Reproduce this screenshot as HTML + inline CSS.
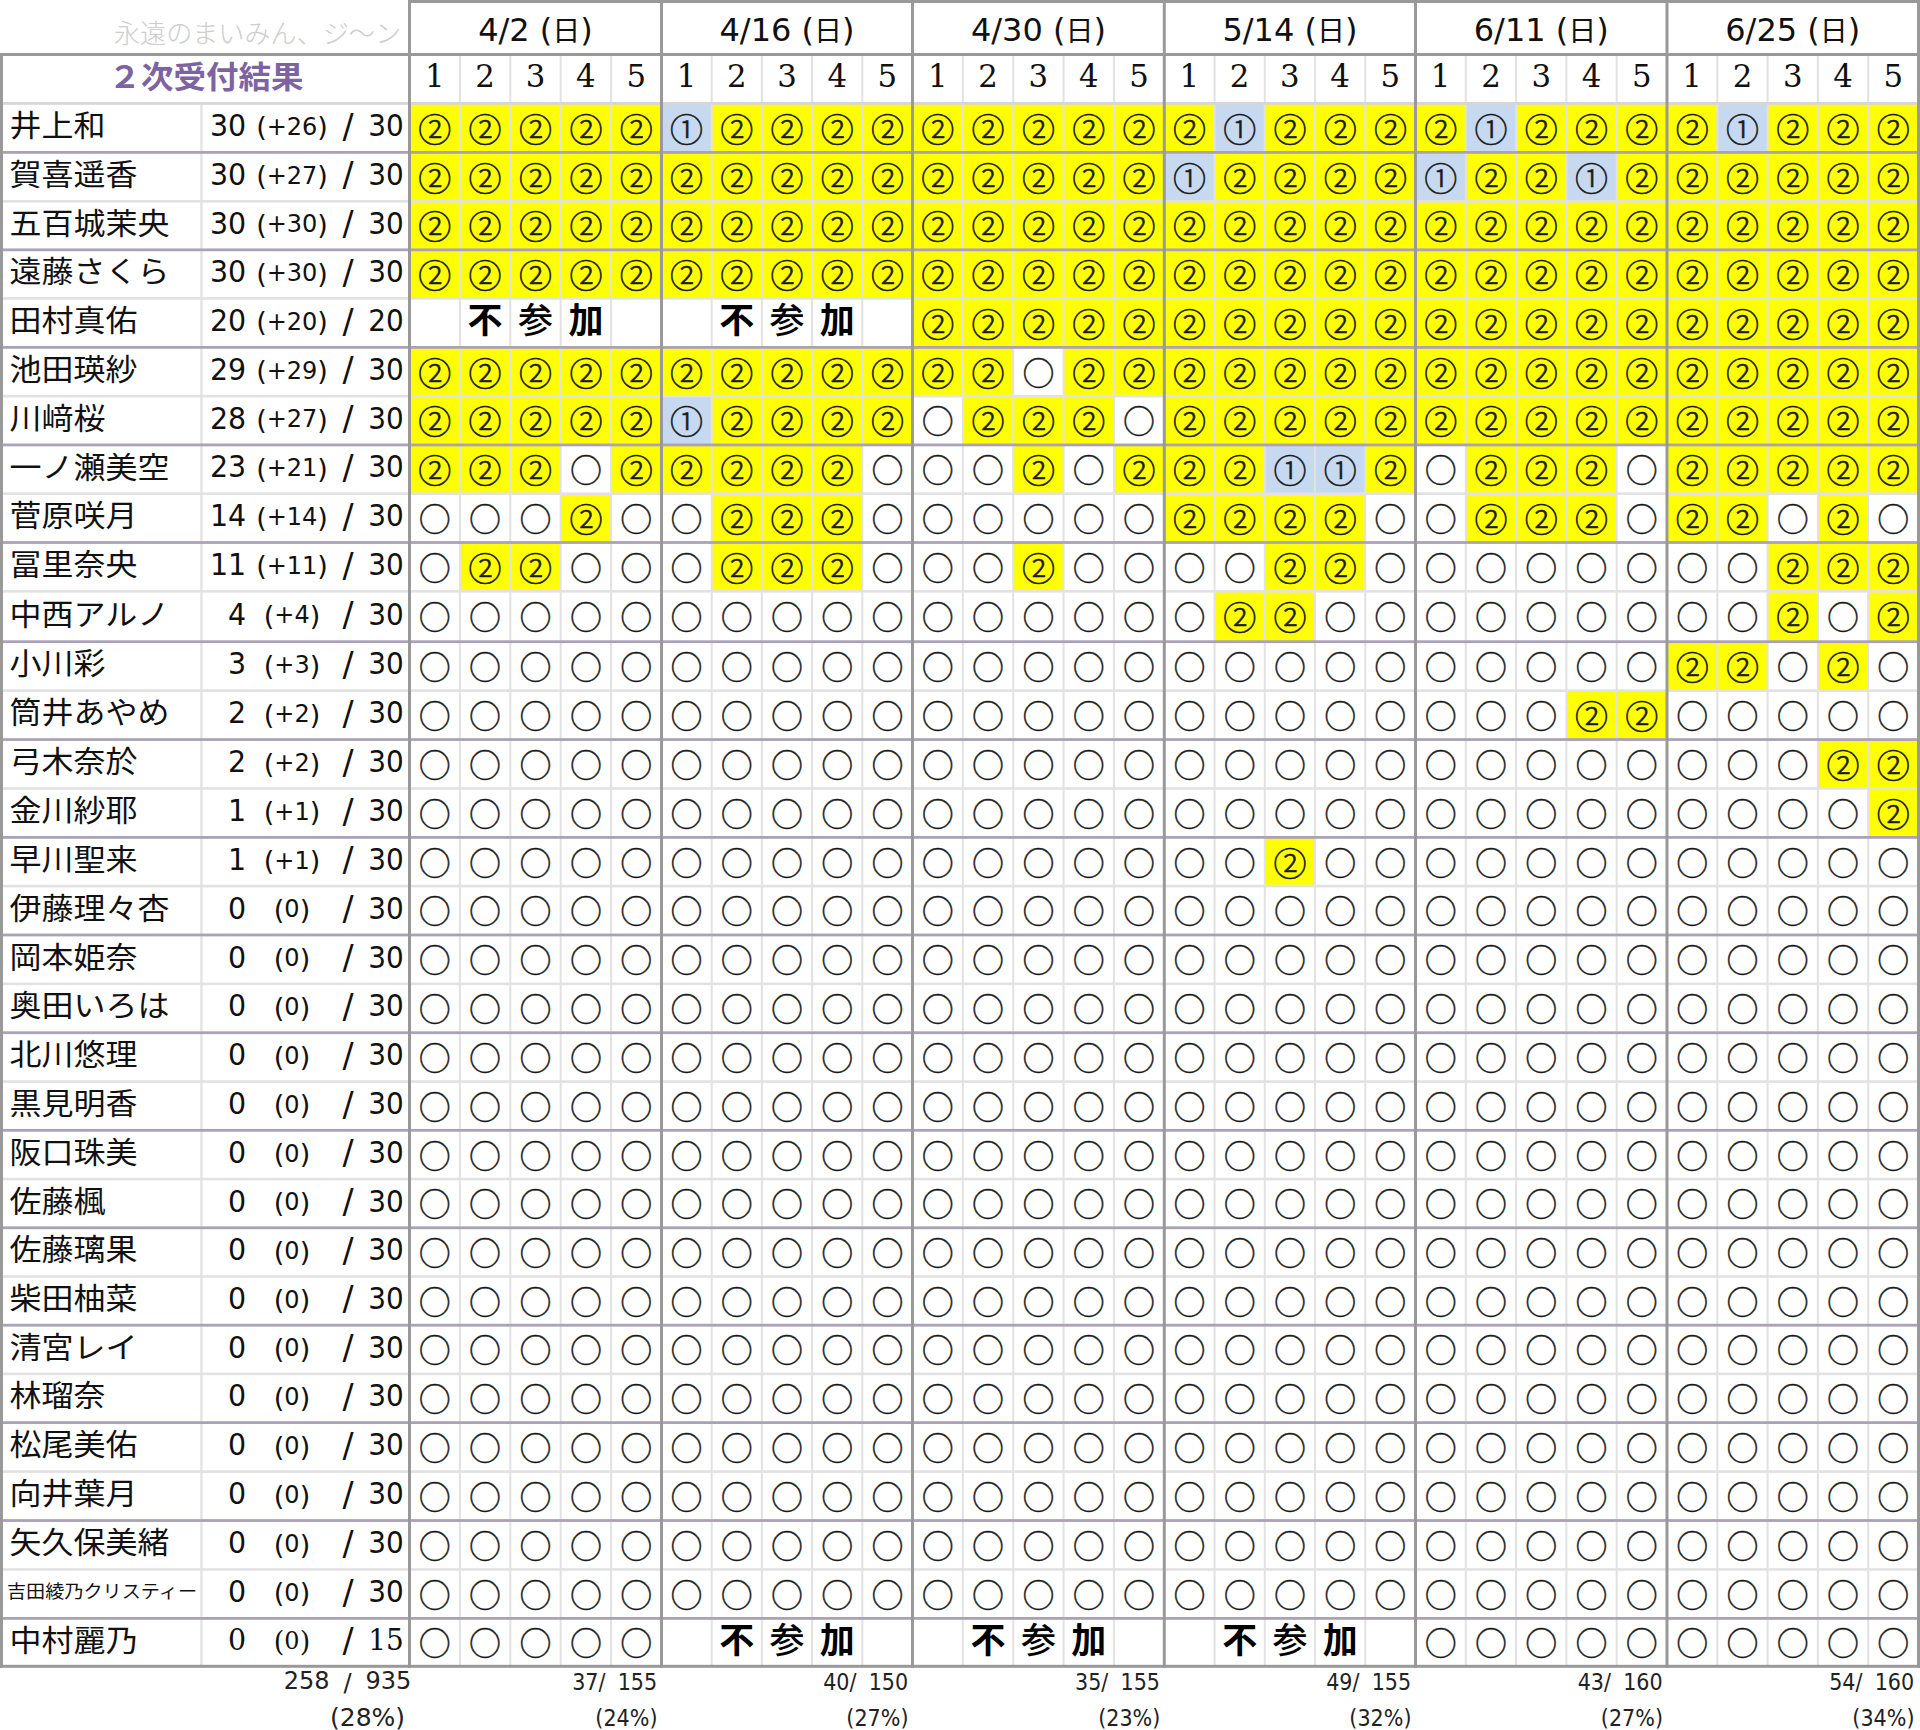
<!DOCTYPE html>
<html lang="ja"><head><meta charset="utf-8"><title>2次受付結果</title>
<style>html,body{margin:0;padding:0;background:#fff;} svg{display:block;}
.n{font-family:'Noto Sans CJK JP',sans-serif;font-size:33px;font-weight:300;fill:#1a1a1a;stroke:#1a1a1a;stroke-width:0.6px;text-anchor:middle;}
.o{font-family:'Noto Sans CJK JP',sans-serif;font-size:32px;font-weight:400;fill:#1a1a1a;stroke:#1a1a1a;stroke-width:0.4px;text-anchor:middle;}</style>
</head><body>
<svg width="1920" height="1730" viewBox="0 0 1920 1730">
<rect x='0' y='0' width='1920' height='1730' fill='#ffffff'/>
<rect x='409.50' y='103.40' width='50.40' height='49.00' fill='#ffff00'/>
<rect x='459.90' y='103.40' width='50.40' height='49.00' fill='#ffff00'/>
<rect x='510.30' y='103.40' width='50.40' height='49.00' fill='#ffff00'/>
<rect x='560.70' y='103.40' width='50.40' height='49.00' fill='#ffff00'/>
<rect x='611.10' y='103.40' width='50.40' height='49.00' fill='#ffff00'/>
<rect x='661.50' y='103.40' width='50.20' height='49.00' fill='#c6d9f0'/>
<rect x='711.70' y='103.40' width='50.20' height='49.00' fill='#ffff00'/>
<rect x='761.90' y='103.40' width='50.20' height='49.00' fill='#ffff00'/>
<rect x='812.10' y='103.40' width='50.20' height='49.00' fill='#ffff00'/>
<rect x='862.30' y='103.40' width='50.20' height='49.00' fill='#ffff00'/>
<rect x='912.50' y='103.40' width='50.36' height='49.00' fill='#ffff00'/>
<rect x='962.86' y='103.40' width='50.36' height='49.00' fill='#ffff00'/>
<rect x='1013.22' y='103.40' width='50.36' height='49.00' fill='#ffff00'/>
<rect x='1063.58' y='103.40' width='50.36' height='49.00' fill='#ffff00'/>
<rect x='1113.94' y='103.40' width='50.36' height='49.00' fill='#ffff00'/>
<rect x='1164.30' y='103.40' width='50.24' height='49.00' fill='#ffff00'/>
<rect x='1214.54' y='103.40' width='50.24' height='49.00' fill='#c6d9f0'/>
<rect x='1264.78' y='103.40' width='50.24' height='49.00' fill='#ffff00'/>
<rect x='1315.02' y='103.40' width='50.24' height='49.00' fill='#ffff00'/>
<rect x='1365.26' y='103.40' width='50.24' height='49.00' fill='#ffff00'/>
<rect x='1415.50' y='103.40' width='50.30' height='49.00' fill='#ffff00'/>
<rect x='1465.80' y='103.40' width='50.30' height='49.00' fill='#c6d9f0'/>
<rect x='1516.10' y='103.40' width='50.30' height='49.00' fill='#ffff00'/>
<rect x='1566.40' y='103.40' width='50.30' height='49.00' fill='#ffff00'/>
<rect x='1616.70' y='103.40' width='50.30' height='49.00' fill='#ffff00'/>
<rect x='1667.00' y='103.40' width='50.30' height='49.00' fill='#ffff00'/>
<rect x='1717.30' y='103.40' width='50.30' height='49.00' fill='#c6d9f0'/>
<rect x='1767.60' y='103.40' width='50.30' height='49.00' fill='#ffff00'/>
<rect x='1817.90' y='103.40' width='50.30' height='49.00' fill='#ffff00'/>
<rect x='1868.20' y='103.40' width='50.30' height='49.00' fill='#ffff00'/>
<rect x='409.50' y='152.40' width='50.40' height='48.90' fill='#ffff00'/>
<rect x='459.90' y='152.40' width='50.40' height='48.90' fill='#ffff00'/>
<rect x='510.30' y='152.40' width='50.40' height='48.90' fill='#ffff00'/>
<rect x='560.70' y='152.40' width='50.40' height='48.90' fill='#ffff00'/>
<rect x='611.10' y='152.40' width='50.40' height='48.90' fill='#ffff00'/>
<rect x='661.50' y='152.40' width='50.20' height='48.90' fill='#ffff00'/>
<rect x='711.70' y='152.40' width='50.20' height='48.90' fill='#ffff00'/>
<rect x='761.90' y='152.40' width='50.20' height='48.90' fill='#ffff00'/>
<rect x='812.10' y='152.40' width='50.20' height='48.90' fill='#ffff00'/>
<rect x='862.30' y='152.40' width='50.20' height='48.90' fill='#ffff00'/>
<rect x='912.50' y='152.40' width='50.36' height='48.90' fill='#ffff00'/>
<rect x='962.86' y='152.40' width='50.36' height='48.90' fill='#ffff00'/>
<rect x='1013.22' y='152.40' width='50.36' height='48.90' fill='#ffff00'/>
<rect x='1063.58' y='152.40' width='50.36' height='48.90' fill='#ffff00'/>
<rect x='1113.94' y='152.40' width='50.36' height='48.90' fill='#ffff00'/>
<rect x='1164.30' y='152.40' width='50.24' height='48.90' fill='#c6d9f0'/>
<rect x='1214.54' y='152.40' width='50.24' height='48.90' fill='#ffff00'/>
<rect x='1264.78' y='152.40' width='50.24' height='48.90' fill='#ffff00'/>
<rect x='1315.02' y='152.40' width='50.24' height='48.90' fill='#ffff00'/>
<rect x='1365.26' y='152.40' width='50.24' height='48.90' fill='#ffff00'/>
<rect x='1415.50' y='152.40' width='50.30' height='48.90' fill='#c6d9f0'/>
<rect x='1465.80' y='152.40' width='50.30' height='48.90' fill='#ffff00'/>
<rect x='1516.10' y='152.40' width='50.30' height='48.90' fill='#ffff00'/>
<rect x='1566.40' y='152.40' width='50.30' height='48.90' fill='#c6d9f0'/>
<rect x='1616.70' y='152.40' width='50.30' height='48.90' fill='#ffff00'/>
<rect x='1667.00' y='152.40' width='50.30' height='48.90' fill='#ffff00'/>
<rect x='1717.30' y='152.40' width='50.30' height='48.90' fill='#ffff00'/>
<rect x='1767.60' y='152.40' width='50.30' height='48.90' fill='#ffff00'/>
<rect x='1817.90' y='152.40' width='50.30' height='48.90' fill='#ffff00'/>
<rect x='1868.20' y='152.40' width='50.30' height='48.90' fill='#ffff00'/>
<rect x='409.50' y='201.30' width='50.40' height='48.55' fill='#ffff00'/>
<rect x='459.90' y='201.30' width='50.40' height='48.55' fill='#ffff00'/>
<rect x='510.30' y='201.30' width='50.40' height='48.55' fill='#ffff00'/>
<rect x='560.70' y='201.30' width='50.40' height='48.55' fill='#ffff00'/>
<rect x='611.10' y='201.30' width='50.40' height='48.55' fill='#ffff00'/>
<rect x='661.50' y='201.30' width='50.20' height='48.55' fill='#ffff00'/>
<rect x='711.70' y='201.30' width='50.20' height='48.55' fill='#ffff00'/>
<rect x='761.90' y='201.30' width='50.20' height='48.55' fill='#ffff00'/>
<rect x='812.10' y='201.30' width='50.20' height='48.55' fill='#ffff00'/>
<rect x='862.30' y='201.30' width='50.20' height='48.55' fill='#ffff00'/>
<rect x='912.50' y='201.30' width='50.36' height='48.55' fill='#ffff00'/>
<rect x='962.86' y='201.30' width='50.36' height='48.55' fill='#ffff00'/>
<rect x='1013.22' y='201.30' width='50.36' height='48.55' fill='#ffff00'/>
<rect x='1063.58' y='201.30' width='50.36' height='48.55' fill='#ffff00'/>
<rect x='1113.94' y='201.30' width='50.36' height='48.55' fill='#ffff00'/>
<rect x='1164.30' y='201.30' width='50.24' height='48.55' fill='#ffff00'/>
<rect x='1214.54' y='201.30' width='50.24' height='48.55' fill='#ffff00'/>
<rect x='1264.78' y='201.30' width='50.24' height='48.55' fill='#ffff00'/>
<rect x='1315.02' y='201.30' width='50.24' height='48.55' fill='#ffff00'/>
<rect x='1365.26' y='201.30' width='50.24' height='48.55' fill='#ffff00'/>
<rect x='1415.50' y='201.30' width='50.30' height='48.55' fill='#ffff00'/>
<rect x='1465.80' y='201.30' width='50.30' height='48.55' fill='#ffff00'/>
<rect x='1516.10' y='201.30' width='50.30' height='48.55' fill='#ffff00'/>
<rect x='1566.40' y='201.30' width='50.30' height='48.55' fill='#ffff00'/>
<rect x='1616.70' y='201.30' width='50.30' height='48.55' fill='#ffff00'/>
<rect x='1667.00' y='201.30' width='50.30' height='48.55' fill='#ffff00'/>
<rect x='1717.30' y='201.30' width='50.30' height='48.55' fill='#ffff00'/>
<rect x='1767.60' y='201.30' width='50.30' height='48.55' fill='#ffff00'/>
<rect x='1817.90' y='201.30' width='50.30' height='48.55' fill='#ffff00'/>
<rect x='1868.20' y='201.30' width='50.30' height='48.55' fill='#ffff00'/>
<rect x='409.50' y='249.85' width='50.40' height='48.55' fill='#ffff00'/>
<rect x='459.90' y='249.85' width='50.40' height='48.55' fill='#ffff00'/>
<rect x='510.30' y='249.85' width='50.40' height='48.55' fill='#ffff00'/>
<rect x='560.70' y='249.85' width='50.40' height='48.55' fill='#ffff00'/>
<rect x='611.10' y='249.85' width='50.40' height='48.55' fill='#ffff00'/>
<rect x='661.50' y='249.85' width='50.20' height='48.55' fill='#ffff00'/>
<rect x='711.70' y='249.85' width='50.20' height='48.55' fill='#ffff00'/>
<rect x='761.90' y='249.85' width='50.20' height='48.55' fill='#ffff00'/>
<rect x='812.10' y='249.85' width='50.20' height='48.55' fill='#ffff00'/>
<rect x='862.30' y='249.85' width='50.20' height='48.55' fill='#ffff00'/>
<rect x='912.50' y='249.85' width='50.36' height='48.55' fill='#ffff00'/>
<rect x='962.86' y='249.85' width='50.36' height='48.55' fill='#ffff00'/>
<rect x='1013.22' y='249.85' width='50.36' height='48.55' fill='#ffff00'/>
<rect x='1063.58' y='249.85' width='50.36' height='48.55' fill='#ffff00'/>
<rect x='1113.94' y='249.85' width='50.36' height='48.55' fill='#ffff00'/>
<rect x='1164.30' y='249.85' width='50.24' height='48.55' fill='#ffff00'/>
<rect x='1214.54' y='249.85' width='50.24' height='48.55' fill='#ffff00'/>
<rect x='1264.78' y='249.85' width='50.24' height='48.55' fill='#ffff00'/>
<rect x='1315.02' y='249.85' width='50.24' height='48.55' fill='#ffff00'/>
<rect x='1365.26' y='249.85' width='50.24' height='48.55' fill='#ffff00'/>
<rect x='1415.50' y='249.85' width='50.30' height='48.55' fill='#ffff00'/>
<rect x='1465.80' y='249.85' width='50.30' height='48.55' fill='#ffff00'/>
<rect x='1516.10' y='249.85' width='50.30' height='48.55' fill='#ffff00'/>
<rect x='1566.40' y='249.85' width='50.30' height='48.55' fill='#ffff00'/>
<rect x='1616.70' y='249.85' width='50.30' height='48.55' fill='#ffff00'/>
<rect x='1667.00' y='249.85' width='50.30' height='48.55' fill='#ffff00'/>
<rect x='1717.30' y='249.85' width='50.30' height='48.55' fill='#ffff00'/>
<rect x='1767.60' y='249.85' width='50.30' height='48.55' fill='#ffff00'/>
<rect x='1817.90' y='249.85' width='50.30' height='48.55' fill='#ffff00'/>
<rect x='1868.20' y='249.85' width='50.30' height='48.55' fill='#ffff00'/>
<rect x='912.50' y='298.40' width='50.36' height='49.00' fill='#ffff00'/>
<rect x='962.86' y='298.40' width='50.36' height='49.00' fill='#ffff00'/>
<rect x='1013.22' y='298.40' width='50.36' height='49.00' fill='#ffff00'/>
<rect x='1063.58' y='298.40' width='50.36' height='49.00' fill='#ffff00'/>
<rect x='1113.94' y='298.40' width='50.36' height='49.00' fill='#ffff00'/>
<rect x='1164.30' y='298.40' width='50.24' height='49.00' fill='#ffff00'/>
<rect x='1214.54' y='298.40' width='50.24' height='49.00' fill='#ffff00'/>
<rect x='1264.78' y='298.40' width='50.24' height='49.00' fill='#ffff00'/>
<rect x='1315.02' y='298.40' width='50.24' height='49.00' fill='#ffff00'/>
<rect x='1365.26' y='298.40' width='50.24' height='49.00' fill='#ffff00'/>
<rect x='1415.50' y='298.40' width='50.30' height='49.00' fill='#ffff00'/>
<rect x='1465.80' y='298.40' width='50.30' height='49.00' fill='#ffff00'/>
<rect x='1516.10' y='298.40' width='50.30' height='49.00' fill='#ffff00'/>
<rect x='1566.40' y='298.40' width='50.30' height='49.00' fill='#ffff00'/>
<rect x='1616.70' y='298.40' width='50.30' height='49.00' fill='#ffff00'/>
<rect x='1667.00' y='298.40' width='50.30' height='49.00' fill='#ffff00'/>
<rect x='1717.30' y='298.40' width='50.30' height='49.00' fill='#ffff00'/>
<rect x='1767.60' y='298.40' width='50.30' height='49.00' fill='#ffff00'/>
<rect x='1817.90' y='298.40' width='50.30' height='49.00' fill='#ffff00'/>
<rect x='1868.20' y='298.40' width='50.30' height='49.00' fill='#ffff00'/>
<rect x='409.50' y='347.40' width='50.40' height='48.77' fill='#ffff00'/>
<rect x='459.90' y='347.40' width='50.40' height='48.77' fill='#ffff00'/>
<rect x='510.30' y='347.40' width='50.40' height='48.77' fill='#ffff00'/>
<rect x='560.70' y='347.40' width='50.40' height='48.77' fill='#ffff00'/>
<rect x='611.10' y='347.40' width='50.40' height='48.77' fill='#ffff00'/>
<rect x='661.50' y='347.40' width='50.20' height='48.77' fill='#ffff00'/>
<rect x='711.70' y='347.40' width='50.20' height='48.77' fill='#ffff00'/>
<rect x='761.90' y='347.40' width='50.20' height='48.77' fill='#ffff00'/>
<rect x='812.10' y='347.40' width='50.20' height='48.77' fill='#ffff00'/>
<rect x='862.30' y='347.40' width='50.20' height='48.77' fill='#ffff00'/>
<rect x='912.50' y='347.40' width='50.36' height='48.77' fill='#ffff00'/>
<rect x='962.86' y='347.40' width='50.36' height='48.77' fill='#ffff00'/>
<rect x='1063.58' y='347.40' width='50.36' height='48.77' fill='#ffff00'/>
<rect x='1113.94' y='347.40' width='50.36' height='48.77' fill='#ffff00'/>
<rect x='1164.30' y='347.40' width='50.24' height='48.77' fill='#ffff00'/>
<rect x='1214.54' y='347.40' width='50.24' height='48.77' fill='#ffff00'/>
<rect x='1264.78' y='347.40' width='50.24' height='48.77' fill='#ffff00'/>
<rect x='1315.02' y='347.40' width='50.24' height='48.77' fill='#ffff00'/>
<rect x='1365.26' y='347.40' width='50.24' height='48.77' fill='#ffff00'/>
<rect x='1415.50' y='347.40' width='50.30' height='48.77' fill='#ffff00'/>
<rect x='1465.80' y='347.40' width='50.30' height='48.77' fill='#ffff00'/>
<rect x='1516.10' y='347.40' width='50.30' height='48.77' fill='#ffff00'/>
<rect x='1566.40' y='347.40' width='50.30' height='48.77' fill='#ffff00'/>
<rect x='1616.70' y='347.40' width='50.30' height='48.77' fill='#ffff00'/>
<rect x='1667.00' y='347.40' width='50.30' height='48.77' fill='#ffff00'/>
<rect x='1717.30' y='347.40' width='50.30' height='48.77' fill='#ffff00'/>
<rect x='1767.60' y='347.40' width='50.30' height='48.77' fill='#ffff00'/>
<rect x='1817.90' y='347.40' width='50.30' height='48.77' fill='#ffff00'/>
<rect x='1868.20' y='347.40' width='50.30' height='48.77' fill='#ffff00'/>
<rect x='409.50' y='396.17' width='50.40' height='48.77' fill='#ffff00'/>
<rect x='459.90' y='396.17' width='50.40' height='48.77' fill='#ffff00'/>
<rect x='510.30' y='396.17' width='50.40' height='48.77' fill='#ffff00'/>
<rect x='560.70' y='396.17' width='50.40' height='48.77' fill='#ffff00'/>
<rect x='611.10' y='396.17' width='50.40' height='48.77' fill='#ffff00'/>
<rect x='661.50' y='396.17' width='50.20' height='48.77' fill='#c6d9f0'/>
<rect x='711.70' y='396.17' width='50.20' height='48.77' fill='#ffff00'/>
<rect x='761.90' y='396.17' width='50.20' height='48.77' fill='#ffff00'/>
<rect x='812.10' y='396.17' width='50.20' height='48.77' fill='#ffff00'/>
<rect x='862.30' y='396.17' width='50.20' height='48.77' fill='#ffff00'/>
<rect x='962.86' y='396.17' width='50.36' height='48.77' fill='#ffff00'/>
<rect x='1013.22' y='396.17' width='50.36' height='48.77' fill='#ffff00'/>
<rect x='1063.58' y='396.17' width='50.36' height='48.77' fill='#ffff00'/>
<rect x='1164.30' y='396.17' width='50.24' height='48.77' fill='#ffff00'/>
<rect x='1214.54' y='396.17' width='50.24' height='48.77' fill='#ffff00'/>
<rect x='1264.78' y='396.17' width='50.24' height='48.77' fill='#ffff00'/>
<rect x='1315.02' y='396.17' width='50.24' height='48.77' fill='#ffff00'/>
<rect x='1365.26' y='396.17' width='50.24' height='48.77' fill='#ffff00'/>
<rect x='1415.50' y='396.17' width='50.30' height='48.77' fill='#ffff00'/>
<rect x='1465.80' y='396.17' width='50.30' height='48.77' fill='#ffff00'/>
<rect x='1516.10' y='396.17' width='50.30' height='48.77' fill='#ffff00'/>
<rect x='1566.40' y='396.17' width='50.30' height='48.77' fill='#ffff00'/>
<rect x='1616.70' y='396.17' width='50.30' height='48.77' fill='#ffff00'/>
<rect x='1667.00' y='396.17' width='50.30' height='48.77' fill='#ffff00'/>
<rect x='1717.30' y='396.17' width='50.30' height='48.77' fill='#ffff00'/>
<rect x='1767.60' y='396.17' width='50.30' height='48.77' fill='#ffff00'/>
<rect x='1817.90' y='396.17' width='50.30' height='48.77' fill='#ffff00'/>
<rect x='1868.20' y='396.17' width='50.30' height='48.77' fill='#ffff00'/>
<rect x='409.50' y='444.93' width='50.40' height='48.77' fill='#ffff00'/>
<rect x='459.90' y='444.93' width='50.40' height='48.77' fill='#ffff00'/>
<rect x='510.30' y='444.93' width='50.40' height='48.77' fill='#ffff00'/>
<rect x='611.10' y='444.93' width='50.40' height='48.77' fill='#ffff00'/>
<rect x='661.50' y='444.93' width='50.20' height='48.77' fill='#ffff00'/>
<rect x='711.70' y='444.93' width='50.20' height='48.77' fill='#ffff00'/>
<rect x='761.90' y='444.93' width='50.20' height='48.77' fill='#ffff00'/>
<rect x='812.10' y='444.93' width='50.20' height='48.77' fill='#ffff00'/>
<rect x='1013.22' y='444.93' width='50.36' height='48.77' fill='#ffff00'/>
<rect x='1113.94' y='444.93' width='50.36' height='48.77' fill='#ffff00'/>
<rect x='1164.30' y='444.93' width='50.24' height='48.77' fill='#ffff00'/>
<rect x='1214.54' y='444.93' width='50.24' height='48.77' fill='#ffff00'/>
<rect x='1264.78' y='444.93' width='50.24' height='48.77' fill='#c6d9f0'/>
<rect x='1315.02' y='444.93' width='50.24' height='48.77' fill='#c6d9f0'/>
<rect x='1365.26' y='444.93' width='50.24' height='48.77' fill='#ffff00'/>
<rect x='1465.80' y='444.93' width='50.30' height='48.77' fill='#ffff00'/>
<rect x='1516.10' y='444.93' width='50.30' height='48.77' fill='#ffff00'/>
<rect x='1566.40' y='444.93' width='50.30' height='48.77' fill='#ffff00'/>
<rect x='1667.00' y='444.93' width='50.30' height='48.77' fill='#ffff00'/>
<rect x='1717.30' y='444.93' width='50.30' height='48.77' fill='#ffff00'/>
<rect x='1767.60' y='444.93' width='50.30' height='48.77' fill='#ffff00'/>
<rect x='1817.90' y='444.93' width='50.30' height='48.77' fill='#ffff00'/>
<rect x='1868.20' y='444.93' width='50.30' height='48.77' fill='#ffff00'/>
<rect x='560.70' y='493.70' width='50.40' height='48.80' fill='#ffff00'/>
<rect x='711.70' y='493.70' width='50.20' height='48.80' fill='#ffff00'/>
<rect x='761.90' y='493.70' width='50.20' height='48.80' fill='#ffff00'/>
<rect x='812.10' y='493.70' width='50.20' height='48.80' fill='#ffff00'/>
<rect x='1164.30' y='493.70' width='50.24' height='48.80' fill='#ffff00'/>
<rect x='1214.54' y='493.70' width='50.24' height='48.80' fill='#ffff00'/>
<rect x='1264.78' y='493.70' width='50.24' height='48.80' fill='#ffff00'/>
<rect x='1315.02' y='493.70' width='50.24' height='48.80' fill='#ffff00'/>
<rect x='1465.80' y='493.70' width='50.30' height='48.80' fill='#ffff00'/>
<rect x='1516.10' y='493.70' width='50.30' height='48.80' fill='#ffff00'/>
<rect x='1566.40' y='493.70' width='50.30' height='48.80' fill='#ffff00'/>
<rect x='1667.00' y='493.70' width='50.30' height='48.80' fill='#ffff00'/>
<rect x='1717.30' y='493.70' width='50.30' height='48.80' fill='#ffff00'/>
<rect x='1817.90' y='493.70' width='50.30' height='48.80' fill='#ffff00'/>
<rect x='459.90' y='542.50' width='50.40' height='48.80' fill='#ffff00'/>
<rect x='510.30' y='542.50' width='50.40' height='48.80' fill='#ffff00'/>
<rect x='711.70' y='542.50' width='50.20' height='48.80' fill='#ffff00'/>
<rect x='761.90' y='542.50' width='50.20' height='48.80' fill='#ffff00'/>
<rect x='812.10' y='542.50' width='50.20' height='48.80' fill='#ffff00'/>
<rect x='1013.22' y='542.50' width='50.36' height='48.80' fill='#ffff00'/>
<rect x='1264.78' y='542.50' width='50.24' height='48.80' fill='#ffff00'/>
<rect x='1315.02' y='542.50' width='50.24' height='48.80' fill='#ffff00'/>
<rect x='1767.60' y='542.50' width='50.30' height='48.80' fill='#ffff00'/>
<rect x='1817.90' y='542.50' width='50.30' height='48.80' fill='#ffff00'/>
<rect x='1868.20' y='542.50' width='50.30' height='48.80' fill='#ffff00'/>
<rect x='1214.54' y='591.30' width='50.24' height='50.40' fill='#ffff00'/>
<rect x='1264.78' y='591.30' width='50.24' height='50.40' fill='#ffff00'/>
<rect x='1767.60' y='591.30' width='50.30' height='50.40' fill='#ffff00'/>
<rect x='1868.20' y='591.30' width='50.30' height='50.40' fill='#ffff00'/>
<rect x='1667.00' y='641.70' width='50.30' height='48.92' fill='#ffff00'/>
<rect x='1717.30' y='641.70' width='50.30' height='48.92' fill='#ffff00'/>
<rect x='1817.90' y='641.70' width='50.30' height='48.92' fill='#ffff00'/>
<rect x='1566.40' y='690.62' width='50.30' height='48.92' fill='#ffff00'/>
<rect x='1616.70' y='690.62' width='50.30' height='48.92' fill='#ffff00'/>
<rect x='1817.90' y='739.55' width='50.30' height='48.93' fill='#ffff00'/>
<rect x='1868.20' y='739.55' width='50.30' height='48.93' fill='#ffff00'/>
<rect x='1868.20' y='788.48' width='50.30' height='48.92' fill='#ffff00'/>
<rect x='1264.78' y='837.40' width='50.24' height='48.70' fill='#ffff00'/>
<rect x='458.90' y='55' width='2' height='1611' fill='#e2e2e2'/>
<rect x='509.30' y='55' width='2' height='1611' fill='#e2e2e2'/>
<rect x='559.70' y='55' width='2' height='1611' fill='#e2e2e2'/>
<rect x='610.10' y='55' width='2' height='1611' fill='#e2e2e2'/>
<rect x='710.70' y='55' width='2' height='1611' fill='#e2e2e2'/>
<rect x='760.90' y='55' width='2' height='1611' fill='#e2e2e2'/>
<rect x='811.10' y='55' width='2' height='1611' fill='#e2e2e2'/>
<rect x='861.30' y='55' width='2' height='1611' fill='#e2e2e2'/>
<rect x='961.86' y='55' width='2' height='1611' fill='#e2e2e2'/>
<rect x='1012.22' y='55' width='2' height='1611' fill='#e2e2e2'/>
<rect x='1062.58' y='55' width='2' height='1611' fill='#e2e2e2'/>
<rect x='1112.94' y='55' width='2' height='1611' fill='#e2e2e2'/>
<rect x='1213.54' y='55' width='2' height='1611' fill='#e2e2e2'/>
<rect x='1263.78' y='55' width='2' height='1611' fill='#e2e2e2'/>
<rect x='1314.02' y='55' width='2' height='1611' fill='#e2e2e2'/>
<rect x='1364.26' y='55' width='2' height='1611' fill='#e2e2e2'/>
<rect x='1464.80' y='55' width='2' height='1611' fill='#e2e2e2'/>
<rect x='1515.10' y='55' width='2' height='1611' fill='#e2e2e2'/>
<rect x='1565.40' y='55' width='2' height='1611' fill='#e2e2e2'/>
<rect x='1615.70' y='55' width='2' height='1611' fill='#e2e2e2'/>
<rect x='1716.30' y='55' width='2' height='1611' fill='#e2e2e2'/>
<rect x='1766.60' y='55' width='2' height='1611' fill='#e2e2e2'/>
<rect x='1816.90' y='55' width='2' height='1611' fill='#e2e2e2'/>
<rect x='1867.20' y='55' width='2' height='1611' fill='#e2e2e2'/>
<rect x='200.3' y='103.40' width='2.2' height='1562.90' fill='#e2e2e2'/>
<rect x='0' y='102.00' width='1920' height='2.8' fill='#d6d6d6'/>
<rect x='0' y='151.00' width='1920' height='2.8' fill='#aba2b8'/>
<rect x='0' y='200.00' width='1920' height='2.6' fill='#e2e2e2'/>
<rect x='0' y='248.45' width='1920' height='2.8' fill='#aba2b8'/>
<rect x='0' y='297.10' width='1920' height='2.6' fill='#e2e2e2'/>
<rect x='0' y='346.00' width='1920' height='2.8' fill='#aba2b8'/>
<rect x='0' y='394.87' width='1920' height='2.6' fill='#e2e2e2'/>
<rect x='0' y='443.53' width='1920' height='2.8' fill='#aba2b8'/>
<rect x='0' y='492.40' width='1920' height='2.6' fill='#e2e2e2'/>
<rect x='0' y='541.10' width='1920' height='2.8' fill='#aba2b8'/>
<rect x='0' y='590.00' width='1920' height='2.6' fill='#e2e2e2'/>
<rect x='0' y='640.30' width='1920' height='2.8' fill='#aba2b8'/>
<rect x='0' y='689.33' width='1920' height='2.6' fill='#e2e2e2'/>
<rect x='0' y='738.15' width='1920' height='2.8' fill='#aba2b8'/>
<rect x='0' y='787.18' width='1920' height='2.6' fill='#e2e2e2'/>
<rect x='0' y='836.00' width='1920' height='2.8' fill='#aba2b8'/>
<rect x='0' y='884.80' width='1920' height='2.6' fill='#e2e2e2'/>
<rect x='0' y='933.58' width='1920' height='2.8' fill='#aba2b8'/>
<rect x='0' y='982.55' width='1920' height='2.6' fill='#e2e2e2'/>
<rect x='0' y='1031.32' width='1920' height='2.8' fill='#aba2b8'/>
<rect x='0' y='1080.30' width='1920' height='2.6' fill='#e2e2e2'/>
<rect x='0' y='1128.92' width='1920' height='2.8' fill='#aba2b8'/>
<rect x='0' y='1177.75' width='1920' height='2.6' fill='#e2e2e2'/>
<rect x='0' y='1226.38' width='1920' height='2.8' fill='#aba2b8'/>
<rect x='0' y='1275.20' width='1920' height='2.6' fill='#e2e2e2'/>
<rect x='0' y='1323.80' width='1920' height='2.8' fill='#aba2b8'/>
<rect x='0' y='1372.60' width='1920' height='2.6' fill='#e2e2e2'/>
<rect x='0' y='1421.20' width='1920' height='2.8' fill='#aba2b8'/>
<rect x='0' y='1470.30' width='1920' height='2.6' fill='#e2e2e2'/>
<rect x='0' y='1519.13' width='1920' height='2.8' fill='#aba2b8'/>
<rect x='0' y='1568.17' width='1920' height='2.6' fill='#e2e2e2'/>
<rect x='0' y='1617.00' width='1920' height='2.8' fill='#aba2b8'/>
<rect x='0' y='53' width='1920' height='3' fill='#999999'/>
<rect x='408' y='0' width='1512' height='3' fill='#999999'/>
<rect x='408.00' y='0' width='3' height='1668' fill='#999999'/>
<rect x='660.00' y='0' width='3' height='1668' fill='#999999'/>
<rect x='911.00' y='0' width='3' height='1668' fill='#999999'/>
<rect x='1162.80' y='0' width='3' height='1668' fill='#999999'/>
<rect x='1414.00' y='0' width='3' height='1668' fill='#999999'/>
<rect x='1665.50' y='0' width='3' height='1668' fill='#999999'/>
<rect x='1917.00' y='0' width='3' height='1668' fill='#999999'/>
<rect x='0' y='53' width='3' height='1615' fill='#999999'/>
<rect x='0' y='1664.80' width='1920' height='3' fill='#999999'/>
<text x='401.00' y='42.60' font-family="'Noto Sans CJK JP', sans-serif" font-size='26' font-weight='300' fill='#cdcdcd' text-anchor='end' textLength='287' lengthAdjust='spacingAndGlyphs'>永遠のまいみん、ジ～ン</text>
<text transform='translate(206.0,87.8) scale(1,0.95)' font-family="'Noto Sans CJK JP', sans-serif" font-size='32.5' font-weight='700' fill='#7c63a1' text-anchor='middle'>２次受付結果</text>
<text x='535.50' y='40.6' font-family="'DejaVu Sans', 'Noto Sans CJK JP', sans-serif" font-size='32' fill='#111' text-anchor='middle'>4/2 (<tspan font-family="'Noto Sans CJK JP', sans-serif" font-size='28'>日</tspan>)</text>
<text x='434.70' y='86.90' font-family="'DejaVu Serif', serif" font-size='30.8' font-weight='400' fill='#111' text-anchor='middle' >1</text>
<text x='485.10' y='86.90' font-family="'DejaVu Serif', serif" font-size='30.8' font-weight='400' fill='#111' text-anchor='middle' >2</text>
<text x='535.50' y='86.90' font-family="'DejaVu Serif', serif" font-size='30.8' font-weight='400' fill='#111' text-anchor='middle' >3</text>
<text x='585.90' y='86.90' font-family="'DejaVu Serif', serif" font-size='30.8' font-weight='400' fill='#111' text-anchor='middle' >4</text>
<text x='636.30' y='86.90' font-family="'DejaVu Serif', serif" font-size='30.8' font-weight='400' fill='#111' text-anchor='middle' >5</text>
<text x='787.00' y='40.6' font-family="'DejaVu Sans', 'Noto Sans CJK JP', sans-serif" font-size='32' fill='#111' text-anchor='middle'>4/16 (<tspan font-family="'Noto Sans CJK JP', sans-serif" font-size='28'>日</tspan>)</text>
<text x='686.60' y='86.90' font-family="'DejaVu Serif', serif" font-size='30.8' font-weight='400' fill='#111' text-anchor='middle' >1</text>
<text x='736.80' y='86.90' font-family="'DejaVu Serif', serif" font-size='30.8' font-weight='400' fill='#111' text-anchor='middle' >2</text>
<text x='787.00' y='86.90' font-family="'DejaVu Serif', serif" font-size='30.8' font-weight='400' fill='#111' text-anchor='middle' >3</text>
<text x='837.20' y='86.90' font-family="'DejaVu Serif', serif" font-size='30.8' font-weight='400' fill='#111' text-anchor='middle' >4</text>
<text x='887.40' y='86.90' font-family="'DejaVu Serif', serif" font-size='30.8' font-weight='400' fill='#111' text-anchor='middle' >5</text>
<text x='1038.40' y='40.6' font-family="'DejaVu Sans', 'Noto Sans CJK JP', sans-serif" font-size='32' fill='#111' text-anchor='middle'>4/30 (<tspan font-family="'Noto Sans CJK JP', sans-serif" font-size='28'>日</tspan>)</text>
<text x='937.68' y='86.90' font-family="'DejaVu Serif', serif" font-size='30.8' font-weight='400' fill='#111' text-anchor='middle' >1</text>
<text x='988.04' y='86.90' font-family="'DejaVu Serif', serif" font-size='30.8' font-weight='400' fill='#111' text-anchor='middle' >2</text>
<text x='1038.40' y='86.90' font-family="'DejaVu Serif', serif" font-size='30.8' font-weight='400' fill='#111' text-anchor='middle' >3</text>
<text x='1088.76' y='86.90' font-family="'DejaVu Serif', serif" font-size='30.8' font-weight='400' fill='#111' text-anchor='middle' >4</text>
<text x='1139.12' y='86.90' font-family="'DejaVu Serif', serif" font-size='30.8' font-weight='400' fill='#111' text-anchor='middle' >5</text>
<text x='1289.90' y='40.6' font-family="'DejaVu Sans', 'Noto Sans CJK JP', sans-serif" font-size='32' fill='#111' text-anchor='middle'>5/14 (<tspan font-family="'Noto Sans CJK JP', sans-serif" font-size='28'>日</tspan>)</text>
<text x='1189.42' y='86.90' font-family="'DejaVu Serif', serif" font-size='30.8' font-weight='400' fill='#111' text-anchor='middle' >1</text>
<text x='1239.66' y='86.90' font-family="'DejaVu Serif', serif" font-size='30.8' font-weight='400' fill='#111' text-anchor='middle' >2</text>
<text x='1289.90' y='86.90' font-family="'DejaVu Serif', serif" font-size='30.8' font-weight='400' fill='#111' text-anchor='middle' >3</text>
<text x='1340.14' y='86.90' font-family="'DejaVu Serif', serif" font-size='30.8' font-weight='400' fill='#111' text-anchor='middle' >4</text>
<text x='1390.38' y='86.90' font-family="'DejaVu Serif', serif" font-size='30.8' font-weight='400' fill='#111' text-anchor='middle' >5</text>
<text x='1541.25' y='40.6' font-family="'DejaVu Sans', 'Noto Sans CJK JP', sans-serif" font-size='32' fill='#111' text-anchor='middle'>6/11 (<tspan font-family="'Noto Sans CJK JP', sans-serif" font-size='28'>日</tspan>)</text>
<text x='1440.65' y='86.90' font-family="'DejaVu Serif', serif" font-size='30.8' font-weight='400' fill='#111' text-anchor='middle' >1</text>
<text x='1490.95' y='86.90' font-family="'DejaVu Serif', serif" font-size='30.8' font-weight='400' fill='#111' text-anchor='middle' >2</text>
<text x='1541.25' y='86.90' font-family="'DejaVu Serif', serif" font-size='30.8' font-weight='400' fill='#111' text-anchor='middle' >3</text>
<text x='1591.55' y='86.90' font-family="'DejaVu Serif', serif" font-size='30.8' font-weight='400' fill='#111' text-anchor='middle' >4</text>
<text x='1641.85' y='86.90' font-family="'DejaVu Serif', serif" font-size='30.8' font-weight='400' fill='#111' text-anchor='middle' >5</text>
<text x='1792.75' y='40.6' font-family="'DejaVu Sans', 'Noto Sans CJK JP', sans-serif" font-size='32' fill='#111' text-anchor='middle'>6/25 (<tspan font-family="'Noto Sans CJK JP', sans-serif" font-size='28'>日</tspan>)</text>
<text x='1692.15' y='86.90' font-family="'DejaVu Serif', serif" font-size='30.8' font-weight='400' fill='#111' text-anchor='middle' >1</text>
<text x='1742.45' y='86.90' font-family="'DejaVu Serif', serif" font-size='30.8' font-weight='400' fill='#111' text-anchor='middle' >2</text>
<text x='1792.75' y='86.90' font-family="'DejaVu Serif', serif" font-size='30.8' font-weight='400' fill='#111' text-anchor='middle' >3</text>
<text x='1843.05' y='86.90' font-family="'DejaVu Serif', serif" font-size='30.8' font-weight='400' fill='#111' text-anchor='middle' >4</text>
<text x='1893.35' y='86.90' font-family="'DejaVu Serif', serif" font-size='30.8' font-weight='400' fill='#111' text-anchor='middle' >5</text>
<text transform='translate(9.5,136.10) scale(1,0.92)' font-family="'Noto Sans CJK JP', sans-serif" font-size='32' fill='#111'>井上和</text>
<text transform='translate(246.20,136.00) scale(0.95,1)' font-family="'DejaVu Sans', 'Noto Sans CJK JP', sans-serif" font-size='30' fill='#111' text-anchor='end'>30</text>
<text x='292' y='136.40' font-family="'DejaVu Sans', 'Noto Sans CJK JP', sans-serif" font-size='27' fill='#111' text-anchor='middle'>(<tspan font-size='24' dy='-1.6'>+26</tspan><tspan dy='1.6'>)</tspan></text>
<text x='348.00' y='137.50' font-family="'DejaVu Sans', 'Noto Sans CJK JP', sans-serif" font-size='33' font-weight='400' fill='#111' text-anchor='middle' >/</text>
<text transform='translate(403.70,136.00) scale(0.93,1)' font-family="'DejaVu Sans', 'Noto Sans CJK JP', sans-serif" font-size='30' fill='#111' text-anchor='end'>30</text>
<text class='n' x='434.70' y='141.80'>②</text>
<text class='n' x='485.10' y='141.80'>②</text>
<text class='n' x='535.50' y='141.80'>②</text>
<text class='n' x='585.90' y='141.80'>②</text>
<text class='n' x='636.30' y='141.80'>②</text>
<text class='n' x='686.60' y='141.80'>①</text>
<text class='n' x='736.80' y='141.80'>②</text>
<text class='n' x='787.00' y='141.80'>②</text>
<text class='n' x='837.20' y='141.80'>②</text>
<text class='n' x='887.40' y='141.80'>②</text>
<text class='n' x='937.68' y='141.80'>②</text>
<text class='n' x='988.04' y='141.80'>②</text>
<text class='n' x='1038.40' y='141.80'>②</text>
<text class='n' x='1088.76' y='141.80'>②</text>
<text class='n' x='1139.12' y='141.80'>②</text>
<text class='n' x='1189.42' y='141.80'>②</text>
<text class='n' x='1239.66' y='141.80'>①</text>
<text class='n' x='1289.90' y='141.80'>②</text>
<text class='n' x='1340.14' y='141.80'>②</text>
<text class='n' x='1390.38' y='141.80'>②</text>
<text class='n' x='1440.65' y='141.80'>②</text>
<text class='n' x='1490.95' y='141.80'>①</text>
<text class='n' x='1541.25' y='141.80'>②</text>
<text class='n' x='1591.55' y='141.80'>②</text>
<text class='n' x='1641.85' y='141.80'>②</text>
<text class='n' x='1692.15' y='141.80'>②</text>
<text class='n' x='1742.45' y='141.80'>①</text>
<text class='n' x='1792.75' y='141.80'>②</text>
<text class='n' x='1843.05' y='141.80'>②</text>
<text class='n' x='1893.35' y='141.80'>②</text>
<text transform='translate(9.5,185.05) scale(1,0.92)' font-family="'Noto Sans CJK JP', sans-serif" font-size='32' fill='#111'>賀喜遥香</text>
<text transform='translate(246.20,184.95) scale(0.95,1)' font-family="'DejaVu Sans', 'Noto Sans CJK JP', sans-serif" font-size='30' fill='#111' text-anchor='end'>30</text>
<text x='292' y='185.35' font-family="'DejaVu Sans', 'Noto Sans CJK JP', sans-serif" font-size='27' fill='#111' text-anchor='middle'>(<tspan font-size='24' dy='-1.6'>+27</tspan><tspan dy='1.6'>)</tspan></text>
<text x='348.00' y='186.45' font-family="'DejaVu Sans', 'Noto Sans CJK JP', sans-serif" font-size='33' font-weight='400' fill='#111' text-anchor='middle' >/</text>
<text transform='translate(403.70,184.95) scale(0.93,1)' font-family="'DejaVu Sans', 'Noto Sans CJK JP', sans-serif" font-size='30' fill='#111' text-anchor='end'>30</text>
<text class='n' x='434.70' y='190.75'>②</text>
<text class='n' x='485.10' y='190.75'>②</text>
<text class='n' x='535.50' y='190.75'>②</text>
<text class='n' x='585.90' y='190.75'>②</text>
<text class='n' x='636.30' y='190.75'>②</text>
<text class='n' x='686.60' y='190.75'>②</text>
<text class='n' x='736.80' y='190.75'>②</text>
<text class='n' x='787.00' y='190.75'>②</text>
<text class='n' x='837.20' y='190.75'>②</text>
<text class='n' x='887.40' y='190.75'>②</text>
<text class='n' x='937.68' y='190.75'>②</text>
<text class='n' x='988.04' y='190.75'>②</text>
<text class='n' x='1038.40' y='190.75'>②</text>
<text class='n' x='1088.76' y='190.75'>②</text>
<text class='n' x='1139.12' y='190.75'>②</text>
<text class='n' x='1189.42' y='190.75'>①</text>
<text class='n' x='1239.66' y='190.75'>②</text>
<text class='n' x='1289.90' y='190.75'>②</text>
<text class='n' x='1340.14' y='190.75'>②</text>
<text class='n' x='1390.38' y='190.75'>②</text>
<text class='n' x='1440.65' y='190.75'>①</text>
<text class='n' x='1490.95' y='190.75'>②</text>
<text class='n' x='1541.25' y='190.75'>②</text>
<text class='n' x='1591.55' y='190.75'>①</text>
<text class='n' x='1641.85' y='190.75'>②</text>
<text class='n' x='1692.15' y='190.75'>②</text>
<text class='n' x='1742.45' y='190.75'>②</text>
<text class='n' x='1792.75' y='190.75'>②</text>
<text class='n' x='1843.05' y='190.75'>②</text>
<text class='n' x='1893.35' y='190.75'>②</text>
<text transform='translate(9.5,233.77) scale(1,0.92)' font-family="'Noto Sans CJK JP', sans-serif" font-size='32' fill='#111'>五百城茉央</text>
<text transform='translate(246.20,233.67) scale(0.95,1)' font-family="'DejaVu Sans', 'Noto Sans CJK JP', sans-serif" font-size='30' fill='#111' text-anchor='end'>30</text>
<text x='292' y='234.07' font-family="'DejaVu Sans', 'Noto Sans CJK JP', sans-serif" font-size='27' fill='#111' text-anchor='middle'>(<tspan font-size='24' dy='-1.6'>+30</tspan><tspan dy='1.6'>)</tspan></text>
<text x='348.00' y='235.17' font-family="'DejaVu Sans', 'Noto Sans CJK JP', sans-serif" font-size='33' font-weight='400' fill='#111' text-anchor='middle' >/</text>
<text transform='translate(403.70,233.67) scale(0.93,1)' font-family="'DejaVu Sans', 'Noto Sans CJK JP', sans-serif" font-size='30' fill='#111' text-anchor='end'>30</text>
<text class='n' x='434.70' y='239.47'>②</text>
<text class='n' x='485.10' y='239.47'>②</text>
<text class='n' x='535.50' y='239.47'>②</text>
<text class='n' x='585.90' y='239.47'>②</text>
<text class='n' x='636.30' y='239.47'>②</text>
<text class='n' x='686.60' y='239.47'>②</text>
<text class='n' x='736.80' y='239.47'>②</text>
<text class='n' x='787.00' y='239.47'>②</text>
<text class='n' x='837.20' y='239.47'>②</text>
<text class='n' x='887.40' y='239.47'>②</text>
<text class='n' x='937.68' y='239.47'>②</text>
<text class='n' x='988.04' y='239.47'>②</text>
<text class='n' x='1038.40' y='239.47'>②</text>
<text class='n' x='1088.76' y='239.47'>②</text>
<text class='n' x='1139.12' y='239.47'>②</text>
<text class='n' x='1189.42' y='239.47'>②</text>
<text class='n' x='1239.66' y='239.47'>②</text>
<text class='n' x='1289.90' y='239.47'>②</text>
<text class='n' x='1340.14' y='239.47'>②</text>
<text class='n' x='1390.38' y='239.47'>②</text>
<text class='n' x='1440.65' y='239.47'>②</text>
<text class='n' x='1490.95' y='239.47'>②</text>
<text class='n' x='1541.25' y='239.47'>②</text>
<text class='n' x='1591.55' y='239.47'>②</text>
<text class='n' x='1641.85' y='239.47'>②</text>
<text class='n' x='1692.15' y='239.47'>②</text>
<text class='n' x='1742.45' y='239.47'>②</text>
<text class='n' x='1792.75' y='239.47'>②</text>
<text class='n' x='1843.05' y='239.47'>②</text>
<text class='n' x='1893.35' y='239.47'>②</text>
<text transform='translate(9.5,282.32) scale(1,0.92)' font-family="'Noto Sans CJK JP', sans-serif" font-size='32' fill='#111'>遠藤さくら</text>
<text transform='translate(246.20,282.23) scale(0.95,1)' font-family="'DejaVu Sans', 'Noto Sans CJK JP', sans-serif" font-size='30' fill='#111' text-anchor='end'>30</text>
<text x='292' y='282.62' font-family="'DejaVu Sans', 'Noto Sans CJK JP', sans-serif" font-size='27' fill='#111' text-anchor='middle'>(<tspan font-size='24' dy='-1.6'>+30</tspan><tspan dy='1.6'>)</tspan></text>
<text x='348.00' y='283.73' font-family="'DejaVu Sans', 'Noto Sans CJK JP', sans-serif" font-size='33' font-weight='400' fill='#111' text-anchor='middle' >/</text>
<text transform='translate(403.70,282.23) scale(0.93,1)' font-family="'DejaVu Sans', 'Noto Sans CJK JP', sans-serif" font-size='30' fill='#111' text-anchor='end'>30</text>
<text class='n' x='434.70' y='288.02'>②</text>
<text class='n' x='485.10' y='288.02'>②</text>
<text class='n' x='535.50' y='288.02'>②</text>
<text class='n' x='585.90' y='288.02'>②</text>
<text class='n' x='636.30' y='288.02'>②</text>
<text class='n' x='686.60' y='288.02'>②</text>
<text class='n' x='736.80' y='288.02'>②</text>
<text class='n' x='787.00' y='288.02'>②</text>
<text class='n' x='837.20' y='288.02'>②</text>
<text class='n' x='887.40' y='288.02'>②</text>
<text class='n' x='937.68' y='288.02'>②</text>
<text class='n' x='988.04' y='288.02'>②</text>
<text class='n' x='1038.40' y='288.02'>②</text>
<text class='n' x='1088.76' y='288.02'>②</text>
<text class='n' x='1139.12' y='288.02'>②</text>
<text class='n' x='1189.42' y='288.02'>②</text>
<text class='n' x='1239.66' y='288.02'>②</text>
<text class='n' x='1289.90' y='288.02'>②</text>
<text class='n' x='1340.14' y='288.02'>②</text>
<text class='n' x='1390.38' y='288.02'>②</text>
<text class='n' x='1440.65' y='288.02'>②</text>
<text class='n' x='1490.95' y='288.02'>②</text>
<text class='n' x='1541.25' y='288.02'>②</text>
<text class='n' x='1591.55' y='288.02'>②</text>
<text class='n' x='1641.85' y='288.02'>②</text>
<text class='n' x='1692.15' y='288.02'>②</text>
<text class='n' x='1742.45' y='288.02'>②</text>
<text class='n' x='1792.75' y='288.02'>②</text>
<text class='n' x='1843.05' y='288.02'>②</text>
<text class='n' x='1893.35' y='288.02'>②</text>
<text transform='translate(9.5,331.10) scale(1,0.92)' font-family="'Noto Sans CJK JP', sans-serif" font-size='32' fill='#111'>田村真佑</text>
<text transform='translate(246.20,331.00) scale(0.95,1)' font-family="'DejaVu Sans', 'Noto Sans CJK JP', sans-serif" font-size='30' fill='#111' text-anchor='end'>20</text>
<text x='292' y='331.40' font-family="'DejaVu Sans', 'Noto Sans CJK JP', sans-serif" font-size='27' fill='#111' text-anchor='middle'>(<tspan font-size='24' dy='-1.6'>+20</tspan><tspan dy='1.6'>)</tspan></text>
<text x='348.00' y='332.50' font-family="'DejaVu Sans', 'Noto Sans CJK JP', sans-serif" font-size='33' font-weight='400' fill='#111' text-anchor='middle' >/</text>
<text transform='translate(403.70,331.00) scale(0.93,1)' font-family="'DejaVu Sans', 'Noto Sans CJK JP', sans-serif" font-size='30' fill='#111' text-anchor='end'>20</text>
<text class='n' x='937.68' y='336.80'>②</text>
<text class='n' x='988.04' y='336.80'>②</text>
<text class='n' x='1038.40' y='336.80'>②</text>
<text class='n' x='1088.76' y='336.80'>②</text>
<text class='n' x='1139.12' y='336.80'>②</text>
<text class='n' x='1189.42' y='336.80'>②</text>
<text class='n' x='1239.66' y='336.80'>②</text>
<text class='n' x='1289.90' y='336.80'>②</text>
<text class='n' x='1340.14' y='336.80'>②</text>
<text class='n' x='1390.38' y='336.80'>②</text>
<text class='n' x='1440.65' y='336.80'>②</text>
<text class='n' x='1490.95' y='336.80'>②</text>
<text class='n' x='1541.25' y='336.80'>②</text>
<text class='n' x='1591.55' y='336.80'>②</text>
<text class='n' x='1641.85' y='336.80'>②</text>
<text class='n' x='1692.15' y='336.80'>②</text>
<text class='n' x='1742.45' y='336.80'>②</text>
<text class='n' x='1792.75' y='336.80'>②</text>
<text class='n' x='1843.05' y='336.80'>②</text>
<text class='n' x='1893.35' y='336.80'>②</text>
<text x='485.10' y='333.20' font-family="'Noto Sans CJK JP', sans-serif" font-size='35' font-weight='700' fill='#000' text-anchor='middle' >不</text>
<text x='535.50' y='333.20' font-family="'Noto Sans CJK JP', sans-serif" font-size='35' font-weight='500' fill='#000' text-anchor='middle' >参</text>
<text x='585.90' y='333.20' font-family="'Noto Sans CJK JP', sans-serif" font-size='35' font-weight='700' fill='#000' text-anchor='middle' >加</text>
<text x='736.80' y='333.20' font-family="'Noto Sans CJK JP', sans-serif" font-size='35' font-weight='700' fill='#000' text-anchor='middle' >不</text>
<text x='787.00' y='333.20' font-family="'Noto Sans CJK JP', sans-serif" font-size='35' font-weight='500' fill='#000' text-anchor='middle' >参</text>
<text x='837.20' y='333.20' font-family="'Noto Sans CJK JP', sans-serif" font-size='35' font-weight='700' fill='#000' text-anchor='middle' >加</text>
<text transform='translate(9.5,379.98) scale(1,0.92)' font-family="'Noto Sans CJK JP', sans-serif" font-size='32' fill='#111'>池田瑛紗</text>
<text transform='translate(246.20,379.88) scale(0.95,1)' font-family="'DejaVu Sans', 'Noto Sans CJK JP', sans-serif" font-size='30' fill='#111' text-anchor='end'>29</text>
<text x='292' y='380.28' font-family="'DejaVu Sans', 'Noto Sans CJK JP', sans-serif" font-size='27' fill='#111' text-anchor='middle'>(<tspan font-size='24' dy='-1.6'>+29</tspan><tspan dy='1.6'>)</tspan></text>
<text x='348.00' y='381.38' font-family="'DejaVu Sans', 'Noto Sans CJK JP', sans-serif" font-size='33' font-weight='400' fill='#111' text-anchor='middle' >/</text>
<text transform='translate(403.70,379.88) scale(0.93,1)' font-family="'DejaVu Sans', 'Noto Sans CJK JP', sans-serif" font-size='30' fill='#111' text-anchor='end'>30</text>
<text class='n' x='434.70' y='385.68'>②</text>
<text class='n' x='485.10' y='385.68'>②</text>
<text class='n' x='535.50' y='385.68'>②</text>
<text class='n' x='585.90' y='385.68'>②</text>
<text class='n' x='636.30' y='385.68'>②</text>
<text class='n' x='686.60' y='385.68'>②</text>
<text class='n' x='736.80' y='385.68'>②</text>
<text class='n' x='787.00' y='385.68'>②</text>
<text class='n' x='837.20' y='385.68'>②</text>
<text class='n' x='887.40' y='385.68'>②</text>
<text class='n' x='937.68' y='385.68'>②</text>
<text class='n' x='988.04' y='385.68'>②</text>
<text class='o' x='1038.40' y='384.60'>○</text>
<text class='n' x='1088.76' y='385.68'>②</text>
<text class='n' x='1139.12' y='385.68'>②</text>
<text class='n' x='1189.42' y='385.68'>②</text>
<text class='n' x='1239.66' y='385.68'>②</text>
<text class='n' x='1289.90' y='385.68'>②</text>
<text class='n' x='1340.14' y='385.68'>②</text>
<text class='n' x='1390.38' y='385.68'>②</text>
<text class='n' x='1440.65' y='385.68'>②</text>
<text class='n' x='1490.95' y='385.68'>②</text>
<text class='n' x='1541.25' y='385.68'>②</text>
<text class='n' x='1591.55' y='385.68'>②</text>
<text class='n' x='1641.85' y='385.68'>②</text>
<text class='n' x='1692.15' y='385.68'>②</text>
<text class='n' x='1742.45' y='385.68'>②</text>
<text class='n' x='1792.75' y='385.68'>②</text>
<text class='n' x='1843.05' y='385.68'>②</text>
<text class='n' x='1893.35' y='385.68'>②</text>
<text transform='translate(9.5,428.75) scale(1,0.92)' font-family="'Noto Sans CJK JP', sans-serif" font-size='32' fill='#111'>川﨑桜</text>
<text transform='translate(246.20,428.65) scale(0.95,1)' font-family="'DejaVu Sans', 'Noto Sans CJK JP', sans-serif" font-size='30' fill='#111' text-anchor='end'>28</text>
<text x='292' y='429.05' font-family="'DejaVu Sans', 'Noto Sans CJK JP', sans-serif" font-size='27' fill='#111' text-anchor='middle'>(<tspan font-size='24' dy='-1.6'>+27</tspan><tspan dy='1.6'>)</tspan></text>
<text x='348.00' y='430.15' font-family="'DejaVu Sans', 'Noto Sans CJK JP', sans-serif" font-size='33' font-weight='400' fill='#111' text-anchor='middle' >/</text>
<text transform='translate(403.70,428.65) scale(0.93,1)' font-family="'DejaVu Sans', 'Noto Sans CJK JP', sans-serif" font-size='30' fill='#111' text-anchor='end'>30</text>
<text class='n' x='434.70' y='434.45'>②</text>
<text class='n' x='485.10' y='434.45'>②</text>
<text class='n' x='535.50' y='434.45'>②</text>
<text class='n' x='585.90' y='434.45'>②</text>
<text class='n' x='636.30' y='434.45'>②</text>
<text class='n' x='686.60' y='434.45'>①</text>
<text class='n' x='736.80' y='434.45'>②</text>
<text class='n' x='787.00' y='434.45'>②</text>
<text class='n' x='837.20' y='434.45'>②</text>
<text class='n' x='887.40' y='434.45'>②</text>
<text class='o' x='937.68' y='433.37'>○</text>
<text class='n' x='988.04' y='434.45'>②</text>
<text class='n' x='1038.40' y='434.45'>②</text>
<text class='n' x='1088.76' y='434.45'>②</text>
<text class='o' x='1139.12' y='433.37'>○</text>
<text class='n' x='1189.42' y='434.45'>②</text>
<text class='n' x='1239.66' y='434.45'>②</text>
<text class='n' x='1289.90' y='434.45'>②</text>
<text class='n' x='1340.14' y='434.45'>②</text>
<text class='n' x='1390.38' y='434.45'>②</text>
<text class='n' x='1440.65' y='434.45'>②</text>
<text class='n' x='1490.95' y='434.45'>②</text>
<text class='n' x='1541.25' y='434.45'>②</text>
<text class='n' x='1591.55' y='434.45'>②</text>
<text class='n' x='1641.85' y='434.45'>②</text>
<text class='n' x='1692.15' y='434.45'>②</text>
<text class='n' x='1742.45' y='434.45'>②</text>
<text class='n' x='1792.75' y='434.45'>②</text>
<text class='n' x='1843.05' y='434.45'>②</text>
<text class='n' x='1893.35' y='434.45'>②</text>
<text transform='translate(9.5,477.52) scale(1,0.92)' font-family="'Noto Sans CJK JP', sans-serif" font-size='32' fill='#111'>一ノ瀬美空</text>
<text transform='translate(246.20,477.42) scale(0.95,1)' font-family="'DejaVu Sans', 'Noto Sans CJK JP', sans-serif" font-size='30' fill='#111' text-anchor='end'>23</text>
<text x='292' y='477.82' font-family="'DejaVu Sans', 'Noto Sans CJK JP', sans-serif" font-size='27' fill='#111' text-anchor='middle'>(<tspan font-size='24' dy='-1.6'>+21</tspan><tspan dy='1.6'>)</tspan></text>
<text x='348.00' y='478.92' font-family="'DejaVu Sans', 'Noto Sans CJK JP', sans-serif" font-size='33' font-weight='400' fill='#111' text-anchor='middle' >/</text>
<text transform='translate(403.70,477.42) scale(0.93,1)' font-family="'DejaVu Sans', 'Noto Sans CJK JP', sans-serif" font-size='30' fill='#111' text-anchor='end'>30</text>
<text class='n' x='434.70' y='483.22'>②</text>
<text class='n' x='485.10' y='483.22'>②</text>
<text class='n' x='535.50' y='483.22'>②</text>
<text class='o' x='585.90' y='482.14'>○</text>
<text class='n' x='636.30' y='483.22'>②</text>
<text class='n' x='686.60' y='483.22'>②</text>
<text class='n' x='736.80' y='483.22'>②</text>
<text class='n' x='787.00' y='483.22'>②</text>
<text class='n' x='837.20' y='483.22'>②</text>
<text class='o' x='887.40' y='482.14'>○</text>
<text class='o' x='937.68' y='482.14'>○</text>
<text class='o' x='988.04' y='482.14'>○</text>
<text class='n' x='1038.40' y='483.22'>②</text>
<text class='o' x='1088.76' y='482.14'>○</text>
<text class='n' x='1139.12' y='483.22'>②</text>
<text class='n' x='1189.42' y='483.22'>②</text>
<text class='n' x='1239.66' y='483.22'>②</text>
<text class='n' x='1289.90' y='483.22'>①</text>
<text class='n' x='1340.14' y='483.22'>①</text>
<text class='n' x='1390.38' y='483.22'>②</text>
<text class='o' x='1440.65' y='482.14'>○</text>
<text class='n' x='1490.95' y='483.22'>②</text>
<text class='n' x='1541.25' y='483.22'>②</text>
<text class='n' x='1591.55' y='483.22'>②</text>
<text class='o' x='1641.85' y='482.14'>○</text>
<text class='n' x='1692.15' y='483.22'>②</text>
<text class='n' x='1742.45' y='483.22'>②</text>
<text class='n' x='1792.75' y='483.22'>②</text>
<text class='n' x='1843.05' y='483.22'>②</text>
<text class='n' x='1893.35' y='483.22'>②</text>
<text transform='translate(9.5,526.30) scale(1,0.92)' font-family="'Noto Sans CJK JP', sans-serif" font-size='32' fill='#111'>菅原咲月</text>
<text transform='translate(246.20,526.20) scale(0.95,1)' font-family="'DejaVu Sans', 'Noto Sans CJK JP', sans-serif" font-size='30' fill='#111' text-anchor='end'>14</text>
<text x='292' y='526.60' font-family="'DejaVu Sans', 'Noto Sans CJK JP', sans-serif" font-size='27' fill='#111' text-anchor='middle'>(<tspan font-size='24' dy='-1.6'>+14</tspan><tspan dy='1.6'>)</tspan></text>
<text x='348.00' y='527.70' font-family="'DejaVu Sans', 'Noto Sans CJK JP', sans-serif" font-size='33' font-weight='400' fill='#111' text-anchor='middle' >/</text>
<text transform='translate(403.70,526.20) scale(0.93,1)' font-family="'DejaVu Sans', 'Noto Sans CJK JP', sans-serif" font-size='30' fill='#111' text-anchor='end'>30</text>
<text class='o' x='434.70' y='530.92'>○</text>
<text class='o' x='485.10' y='530.92'>○</text>
<text class='o' x='535.50' y='530.92'>○</text>
<text class='n' x='585.90' y='532.00'>②</text>
<text class='o' x='636.30' y='530.92'>○</text>
<text class='o' x='686.60' y='530.92'>○</text>
<text class='n' x='736.80' y='532.00'>②</text>
<text class='n' x='787.00' y='532.00'>②</text>
<text class='n' x='837.20' y='532.00'>②</text>
<text class='o' x='887.40' y='530.92'>○</text>
<text class='o' x='937.68' y='530.92'>○</text>
<text class='o' x='988.04' y='530.92'>○</text>
<text class='o' x='1038.40' y='530.92'>○</text>
<text class='o' x='1088.76' y='530.92'>○</text>
<text class='o' x='1139.12' y='530.92'>○</text>
<text class='n' x='1189.42' y='532.00'>②</text>
<text class='n' x='1239.66' y='532.00'>②</text>
<text class='n' x='1289.90' y='532.00'>②</text>
<text class='n' x='1340.14' y='532.00'>②</text>
<text class='o' x='1390.38' y='530.92'>○</text>
<text class='o' x='1440.65' y='530.92'>○</text>
<text class='n' x='1490.95' y='532.00'>②</text>
<text class='n' x='1541.25' y='532.00'>②</text>
<text class='n' x='1591.55' y='532.00'>②</text>
<text class='o' x='1641.85' y='530.92'>○</text>
<text class='n' x='1692.15' y='532.00'>②</text>
<text class='n' x='1742.45' y='532.00'>②</text>
<text class='o' x='1792.75' y='530.92'>○</text>
<text class='n' x='1843.05' y='532.00'>②</text>
<text class='o' x='1893.35' y='530.92'>○</text>
<text transform='translate(9.5,575.10) scale(1,0.92)' font-family="'Noto Sans CJK JP', sans-serif" font-size='32' fill='#111'>冨里奈央</text>
<text transform='translate(246.20,575.00) scale(0.95,1)' font-family="'DejaVu Sans', 'Noto Sans CJK JP', sans-serif" font-size='30' fill='#111' text-anchor='end'>11</text>
<text x='292' y='575.40' font-family="'DejaVu Sans', 'Noto Sans CJK JP', sans-serif" font-size='27' fill='#111' text-anchor='middle'>(<tspan font-size='24' dy='-1.6'>+11</tspan><tspan dy='1.6'>)</tspan></text>
<text x='348.00' y='576.50' font-family="'DejaVu Sans', 'Noto Sans CJK JP', sans-serif" font-size='33' font-weight='400' fill='#111' text-anchor='middle' >/</text>
<text transform='translate(403.70,575.00) scale(0.93,1)' font-family="'DejaVu Sans', 'Noto Sans CJK JP', sans-serif" font-size='30' fill='#111' text-anchor='end'>30</text>
<text class='o' x='434.70' y='579.72'>○</text>
<text class='n' x='485.10' y='580.80'>②</text>
<text class='n' x='535.50' y='580.80'>②</text>
<text class='o' x='585.90' y='579.72'>○</text>
<text class='o' x='636.30' y='579.72'>○</text>
<text class='o' x='686.60' y='579.72'>○</text>
<text class='n' x='736.80' y='580.80'>②</text>
<text class='n' x='787.00' y='580.80'>②</text>
<text class='n' x='837.20' y='580.80'>②</text>
<text class='o' x='887.40' y='579.72'>○</text>
<text class='o' x='937.68' y='579.72'>○</text>
<text class='o' x='988.04' y='579.72'>○</text>
<text class='n' x='1038.40' y='580.80'>②</text>
<text class='o' x='1088.76' y='579.72'>○</text>
<text class='o' x='1139.12' y='579.72'>○</text>
<text class='o' x='1189.42' y='579.72'>○</text>
<text class='o' x='1239.66' y='579.72'>○</text>
<text class='n' x='1289.90' y='580.80'>②</text>
<text class='n' x='1340.14' y='580.80'>②</text>
<text class='o' x='1390.38' y='579.72'>○</text>
<text class='o' x='1440.65' y='579.72'>○</text>
<text class='o' x='1490.95' y='579.72'>○</text>
<text class='o' x='1541.25' y='579.72'>○</text>
<text class='o' x='1591.55' y='579.72'>○</text>
<text class='o' x='1641.85' y='579.72'>○</text>
<text class='o' x='1692.15' y='579.72'>○</text>
<text class='o' x='1742.45' y='579.72'>○</text>
<text class='n' x='1792.75' y='580.80'>②</text>
<text class='n' x='1843.05' y='580.80'>②</text>
<text class='n' x='1893.35' y='580.80'>②</text>
<text transform='translate(9.5,624.70) scale(1,0.92)' font-family="'Noto Sans CJK JP', sans-serif" font-size='32' fill='#111'>中西アルノ</text>
<text transform='translate(246.20,624.60) scale(0.95,1)' font-family="'DejaVu Sans', 'Noto Sans CJK JP', sans-serif" font-size='30' fill='#111' text-anchor='end'>4</text>
<text x='292' y='625.00' font-family="'DejaVu Sans', 'Noto Sans CJK JP', sans-serif" font-size='27' fill='#111' text-anchor='middle'>(<tspan font-size='24' dy='-1.6'>+4</tspan><tspan dy='1.6'>)</tspan></text>
<text x='348.00' y='626.10' font-family="'DejaVu Sans', 'Noto Sans CJK JP', sans-serif" font-size='33' font-weight='400' fill='#111' text-anchor='middle' >/</text>
<text transform='translate(403.70,624.60) scale(0.93,1)' font-family="'DejaVu Sans', 'Noto Sans CJK JP', sans-serif" font-size='30' fill='#111' text-anchor='end'>30</text>
<text class='o' x='434.70' y='629.32'>○</text>
<text class='o' x='485.10' y='629.32'>○</text>
<text class='o' x='535.50' y='629.32'>○</text>
<text class='o' x='585.90' y='629.32'>○</text>
<text class='o' x='636.30' y='629.32'>○</text>
<text class='o' x='686.60' y='629.32'>○</text>
<text class='o' x='736.80' y='629.32'>○</text>
<text class='o' x='787.00' y='629.32'>○</text>
<text class='o' x='837.20' y='629.32'>○</text>
<text class='o' x='887.40' y='629.32'>○</text>
<text class='o' x='937.68' y='629.32'>○</text>
<text class='o' x='988.04' y='629.32'>○</text>
<text class='o' x='1038.40' y='629.32'>○</text>
<text class='o' x='1088.76' y='629.32'>○</text>
<text class='o' x='1139.12' y='629.32'>○</text>
<text class='o' x='1189.42' y='629.32'>○</text>
<text class='n' x='1239.66' y='630.40'>②</text>
<text class='n' x='1289.90' y='630.40'>②</text>
<text class='o' x='1340.14' y='629.32'>○</text>
<text class='o' x='1390.38' y='629.32'>○</text>
<text class='o' x='1440.65' y='629.32'>○</text>
<text class='o' x='1490.95' y='629.32'>○</text>
<text class='o' x='1541.25' y='629.32'>○</text>
<text class='o' x='1591.55' y='629.32'>○</text>
<text class='o' x='1641.85' y='629.32'>○</text>
<text class='o' x='1692.15' y='629.32'>○</text>
<text class='o' x='1742.45' y='629.32'>○</text>
<text class='n' x='1792.75' y='630.40'>②</text>
<text class='o' x='1843.05' y='629.32'>○</text>
<text class='n' x='1893.35' y='630.40'>②</text>
<text transform='translate(9.5,674.36) scale(1,0.92)' font-family="'Noto Sans CJK JP', sans-serif" font-size='32' fill='#111'>小川彩</text>
<text transform='translate(246.20,674.26) scale(0.95,1)' font-family="'DejaVu Sans', 'Noto Sans CJK JP', sans-serif" font-size='30' fill='#111' text-anchor='end'>3</text>
<text x='292' y='674.66' font-family="'DejaVu Sans', 'Noto Sans CJK JP', sans-serif" font-size='27' fill='#111' text-anchor='middle'>(<tspan font-size='24' dy='-1.6'>+3</tspan><tspan dy='1.6'>)</tspan></text>
<text x='348.00' y='675.76' font-family="'DejaVu Sans', 'Noto Sans CJK JP', sans-serif" font-size='33' font-weight='400' fill='#111' text-anchor='middle' >/</text>
<text transform='translate(403.70,674.26) scale(0.93,1)' font-family="'DejaVu Sans', 'Noto Sans CJK JP', sans-serif" font-size='30' fill='#111' text-anchor='end'>30</text>
<text class='o' x='434.70' y='678.98'>○</text>
<text class='o' x='485.10' y='678.98'>○</text>
<text class='o' x='535.50' y='678.98'>○</text>
<text class='o' x='585.90' y='678.98'>○</text>
<text class='o' x='636.30' y='678.98'>○</text>
<text class='o' x='686.60' y='678.98'>○</text>
<text class='o' x='736.80' y='678.98'>○</text>
<text class='o' x='787.00' y='678.98'>○</text>
<text class='o' x='837.20' y='678.98'>○</text>
<text class='o' x='887.40' y='678.98'>○</text>
<text class='o' x='937.68' y='678.98'>○</text>
<text class='o' x='988.04' y='678.98'>○</text>
<text class='o' x='1038.40' y='678.98'>○</text>
<text class='o' x='1088.76' y='678.98'>○</text>
<text class='o' x='1139.12' y='678.98'>○</text>
<text class='o' x='1189.42' y='678.98'>○</text>
<text class='o' x='1239.66' y='678.98'>○</text>
<text class='o' x='1289.90' y='678.98'>○</text>
<text class='o' x='1340.14' y='678.98'>○</text>
<text class='o' x='1390.38' y='678.98'>○</text>
<text class='o' x='1440.65' y='678.98'>○</text>
<text class='o' x='1490.95' y='678.98'>○</text>
<text class='o' x='1541.25' y='678.98'>○</text>
<text class='o' x='1591.55' y='678.98'>○</text>
<text class='o' x='1641.85' y='678.98'>○</text>
<text class='n' x='1692.15' y='680.06'>②</text>
<text class='n' x='1742.45' y='680.06'>②</text>
<text class='o' x='1792.75' y='678.98'>○</text>
<text class='n' x='1843.05' y='680.06'>②</text>
<text class='o' x='1893.35' y='678.98'>○</text>
<text transform='translate(9.5,723.29) scale(1,0.92)' font-family="'Noto Sans CJK JP', sans-serif" font-size='32' fill='#111'>筒井あやめ</text>
<text transform='translate(246.20,723.19) scale(0.95,1)' font-family="'DejaVu Sans', 'Noto Sans CJK JP', sans-serif" font-size='30' fill='#111' text-anchor='end'>2</text>
<text x='292' y='723.59' font-family="'DejaVu Sans', 'Noto Sans CJK JP', sans-serif" font-size='27' fill='#111' text-anchor='middle'>(<tspan font-size='24' dy='-1.6'>+2</tspan><tspan dy='1.6'>)</tspan></text>
<text x='348.00' y='724.69' font-family="'DejaVu Sans', 'Noto Sans CJK JP', sans-serif" font-size='33' font-weight='400' fill='#111' text-anchor='middle' >/</text>
<text transform='translate(403.70,723.19) scale(0.93,1)' font-family="'DejaVu Sans', 'Noto Sans CJK JP', sans-serif" font-size='30' fill='#111' text-anchor='end'>30</text>
<text class='o' x='434.70' y='727.91'>○</text>
<text class='o' x='485.10' y='727.91'>○</text>
<text class='o' x='535.50' y='727.91'>○</text>
<text class='o' x='585.90' y='727.91'>○</text>
<text class='o' x='636.30' y='727.91'>○</text>
<text class='o' x='686.60' y='727.91'>○</text>
<text class='o' x='736.80' y='727.91'>○</text>
<text class='o' x='787.00' y='727.91'>○</text>
<text class='o' x='837.20' y='727.91'>○</text>
<text class='o' x='887.40' y='727.91'>○</text>
<text class='o' x='937.68' y='727.91'>○</text>
<text class='o' x='988.04' y='727.91'>○</text>
<text class='o' x='1038.40' y='727.91'>○</text>
<text class='o' x='1088.76' y='727.91'>○</text>
<text class='o' x='1139.12' y='727.91'>○</text>
<text class='o' x='1189.42' y='727.91'>○</text>
<text class='o' x='1239.66' y='727.91'>○</text>
<text class='o' x='1289.90' y='727.91'>○</text>
<text class='o' x='1340.14' y='727.91'>○</text>
<text class='o' x='1390.38' y='727.91'>○</text>
<text class='o' x='1440.65' y='727.91'>○</text>
<text class='o' x='1490.95' y='727.91'>○</text>
<text class='o' x='1541.25' y='727.91'>○</text>
<text class='n' x='1591.55' y='728.99'>②</text>
<text class='n' x='1641.85' y='728.99'>②</text>
<text class='o' x='1692.15' y='727.91'>○</text>
<text class='o' x='1742.45' y='727.91'>○</text>
<text class='o' x='1792.75' y='727.91'>○</text>
<text class='o' x='1843.05' y='727.91'>○</text>
<text class='o' x='1893.35' y='727.91'>○</text>
<text transform='translate(9.5,772.21) scale(1,0.92)' font-family="'Noto Sans CJK JP', sans-serif" font-size='32' fill='#111'>弓木奈於</text>
<text transform='translate(246.20,772.11) scale(0.95,1)' font-family="'DejaVu Sans', 'Noto Sans CJK JP', sans-serif" font-size='30' fill='#111' text-anchor='end'>2</text>
<text x='292' y='772.51' font-family="'DejaVu Sans', 'Noto Sans CJK JP', sans-serif" font-size='27' fill='#111' text-anchor='middle'>(<tspan font-size='24' dy='-1.6'>+2</tspan><tspan dy='1.6'>)</tspan></text>
<text x='348.00' y='773.61' font-family="'DejaVu Sans', 'Noto Sans CJK JP', sans-serif" font-size='33' font-weight='400' fill='#111' text-anchor='middle' >/</text>
<text transform='translate(403.70,772.11) scale(0.93,1)' font-family="'DejaVu Sans', 'Noto Sans CJK JP', sans-serif" font-size='30' fill='#111' text-anchor='end'>30</text>
<text class='o' x='434.70' y='776.83'>○</text>
<text class='o' x='485.10' y='776.83'>○</text>
<text class='o' x='535.50' y='776.83'>○</text>
<text class='o' x='585.90' y='776.83'>○</text>
<text class='o' x='636.30' y='776.83'>○</text>
<text class='o' x='686.60' y='776.83'>○</text>
<text class='o' x='736.80' y='776.83'>○</text>
<text class='o' x='787.00' y='776.83'>○</text>
<text class='o' x='837.20' y='776.83'>○</text>
<text class='o' x='887.40' y='776.83'>○</text>
<text class='o' x='937.68' y='776.83'>○</text>
<text class='o' x='988.04' y='776.83'>○</text>
<text class='o' x='1038.40' y='776.83'>○</text>
<text class='o' x='1088.76' y='776.83'>○</text>
<text class='o' x='1139.12' y='776.83'>○</text>
<text class='o' x='1189.42' y='776.83'>○</text>
<text class='o' x='1239.66' y='776.83'>○</text>
<text class='o' x='1289.90' y='776.83'>○</text>
<text class='o' x='1340.14' y='776.83'>○</text>
<text class='o' x='1390.38' y='776.83'>○</text>
<text class='o' x='1440.65' y='776.83'>○</text>
<text class='o' x='1490.95' y='776.83'>○</text>
<text class='o' x='1541.25' y='776.83'>○</text>
<text class='o' x='1591.55' y='776.83'>○</text>
<text class='o' x='1641.85' y='776.83'>○</text>
<text class='o' x='1692.15' y='776.83'>○</text>
<text class='o' x='1742.45' y='776.83'>○</text>
<text class='o' x='1792.75' y='776.83'>○</text>
<text class='n' x='1843.05' y='777.91'>②</text>
<text class='n' x='1893.35' y='777.91'>②</text>
<text transform='translate(9.5,821.14) scale(1,0.92)' font-family="'Noto Sans CJK JP', sans-serif" font-size='32' fill='#111'>金川紗耶</text>
<text transform='translate(246.20,821.04) scale(0.95,1)' font-family="'DejaVu Sans', 'Noto Sans CJK JP', sans-serif" font-size='30' fill='#111' text-anchor='end'>1</text>
<text x='292' y='821.44' font-family="'DejaVu Sans', 'Noto Sans CJK JP', sans-serif" font-size='27' fill='#111' text-anchor='middle'>(<tspan font-size='24' dy='-1.6'>+1</tspan><tspan dy='1.6'>)</tspan></text>
<text x='348.00' y='822.54' font-family="'DejaVu Sans', 'Noto Sans CJK JP', sans-serif" font-size='33' font-weight='400' fill='#111' text-anchor='middle' >/</text>
<text transform='translate(403.70,821.04) scale(0.93,1)' font-family="'DejaVu Sans', 'Noto Sans CJK JP', sans-serif" font-size='30' fill='#111' text-anchor='end'>30</text>
<text class='o' x='434.70' y='825.76'>○</text>
<text class='o' x='485.10' y='825.76'>○</text>
<text class='o' x='535.50' y='825.76'>○</text>
<text class='o' x='585.90' y='825.76'>○</text>
<text class='o' x='636.30' y='825.76'>○</text>
<text class='o' x='686.60' y='825.76'>○</text>
<text class='o' x='736.80' y='825.76'>○</text>
<text class='o' x='787.00' y='825.76'>○</text>
<text class='o' x='837.20' y='825.76'>○</text>
<text class='o' x='887.40' y='825.76'>○</text>
<text class='o' x='937.68' y='825.76'>○</text>
<text class='o' x='988.04' y='825.76'>○</text>
<text class='o' x='1038.40' y='825.76'>○</text>
<text class='o' x='1088.76' y='825.76'>○</text>
<text class='o' x='1139.12' y='825.76'>○</text>
<text class='o' x='1189.42' y='825.76'>○</text>
<text class='o' x='1239.66' y='825.76'>○</text>
<text class='o' x='1289.90' y='825.76'>○</text>
<text class='o' x='1340.14' y='825.76'>○</text>
<text class='o' x='1390.38' y='825.76'>○</text>
<text class='o' x='1440.65' y='825.76'>○</text>
<text class='o' x='1490.95' y='825.76'>○</text>
<text class='o' x='1541.25' y='825.76'>○</text>
<text class='o' x='1591.55' y='825.76'>○</text>
<text class='o' x='1641.85' y='825.76'>○</text>
<text class='o' x='1692.15' y='825.76'>○</text>
<text class='o' x='1742.45' y='825.76'>○</text>
<text class='o' x='1792.75' y='825.76'>○</text>
<text class='o' x='1843.05' y='825.76'>○</text>
<text class='n' x='1893.35' y='826.84'>②</text>
<text transform='translate(9.5,869.95) scale(1,0.92)' font-family="'Noto Sans CJK JP', sans-serif" font-size='32' fill='#111'>早川聖来</text>
<text transform='translate(246.20,869.85) scale(0.95,1)' font-family="'DejaVu Sans', 'Noto Sans CJK JP', sans-serif" font-size='30' fill='#111' text-anchor='end'>1</text>
<text x='292' y='870.25' font-family="'DejaVu Sans', 'Noto Sans CJK JP', sans-serif" font-size='27' fill='#111' text-anchor='middle'>(<tspan font-size='24' dy='-1.6'>+1</tspan><tspan dy='1.6'>)</tspan></text>
<text x='348.00' y='871.35' font-family="'DejaVu Sans', 'Noto Sans CJK JP', sans-serif" font-size='33' font-weight='400' fill='#111' text-anchor='middle' >/</text>
<text transform='translate(403.70,869.85) scale(0.93,1)' font-family="'DejaVu Sans', 'Noto Sans CJK JP', sans-serif" font-size='30' fill='#111' text-anchor='end'>30</text>
<text class='o' x='434.70' y='874.57'>○</text>
<text class='o' x='485.10' y='874.57'>○</text>
<text class='o' x='535.50' y='874.57'>○</text>
<text class='o' x='585.90' y='874.57'>○</text>
<text class='o' x='636.30' y='874.57'>○</text>
<text class='o' x='686.60' y='874.57'>○</text>
<text class='o' x='736.80' y='874.57'>○</text>
<text class='o' x='787.00' y='874.57'>○</text>
<text class='o' x='837.20' y='874.57'>○</text>
<text class='o' x='887.40' y='874.57'>○</text>
<text class='o' x='937.68' y='874.57'>○</text>
<text class='o' x='988.04' y='874.57'>○</text>
<text class='o' x='1038.40' y='874.57'>○</text>
<text class='o' x='1088.76' y='874.57'>○</text>
<text class='o' x='1139.12' y='874.57'>○</text>
<text class='o' x='1189.42' y='874.57'>○</text>
<text class='o' x='1239.66' y='874.57'>○</text>
<text class='n' x='1289.90' y='875.65'>②</text>
<text class='o' x='1340.14' y='874.57'>○</text>
<text class='o' x='1390.38' y='874.57'>○</text>
<text class='o' x='1440.65' y='874.57'>○</text>
<text class='o' x='1490.95' y='874.57'>○</text>
<text class='o' x='1541.25' y='874.57'>○</text>
<text class='o' x='1591.55' y='874.57'>○</text>
<text class='o' x='1641.85' y='874.57'>○</text>
<text class='o' x='1692.15' y='874.57'>○</text>
<text class='o' x='1742.45' y='874.57'>○</text>
<text class='o' x='1792.75' y='874.57'>○</text>
<text class='o' x='1843.05' y='874.57'>○</text>
<text class='o' x='1893.35' y='874.57'>○</text>
<text transform='translate(9.5,918.74) scale(1,0.92)' font-family="'Noto Sans CJK JP', sans-serif" font-size='32' fill='#111'>伊藤理々杏</text>
<text transform='translate(246.20,918.64) scale(0.95,1)' font-family="'DejaVu Sans', 'Noto Sans CJK JP', sans-serif" font-size='30' fill='#111' text-anchor='end'>0</text>
<text x='292' y='919.04' font-family="'DejaVu Sans', 'Noto Sans CJK JP', sans-serif" font-size='27' fill='#111' text-anchor='middle'>(<tspan font-size='24' dy='-1.6'>0</tspan><tspan dy='1.6'>)</tspan></text>
<text x='348.00' y='920.14' font-family="'DejaVu Sans', 'Noto Sans CJK JP', sans-serif" font-size='33' font-weight='400' fill='#111' text-anchor='middle' >/</text>
<text transform='translate(403.70,918.64) scale(0.93,1)' font-family="'DejaVu Sans', 'Noto Sans CJK JP', sans-serif" font-size='30' fill='#111' text-anchor='end'>30</text>
<text class='o' x='434.70' y='923.36'>○</text>
<text class='o' x='485.10' y='923.36'>○</text>
<text class='o' x='535.50' y='923.36'>○</text>
<text class='o' x='585.90' y='923.36'>○</text>
<text class='o' x='636.30' y='923.36'>○</text>
<text class='o' x='686.60' y='923.36'>○</text>
<text class='o' x='736.80' y='923.36'>○</text>
<text class='o' x='787.00' y='923.36'>○</text>
<text class='o' x='837.20' y='923.36'>○</text>
<text class='o' x='887.40' y='923.36'>○</text>
<text class='o' x='937.68' y='923.36'>○</text>
<text class='o' x='988.04' y='923.36'>○</text>
<text class='o' x='1038.40' y='923.36'>○</text>
<text class='o' x='1088.76' y='923.36'>○</text>
<text class='o' x='1139.12' y='923.36'>○</text>
<text class='o' x='1189.42' y='923.36'>○</text>
<text class='o' x='1239.66' y='923.36'>○</text>
<text class='o' x='1289.90' y='923.36'>○</text>
<text class='o' x='1340.14' y='923.36'>○</text>
<text class='o' x='1390.38' y='923.36'>○</text>
<text class='o' x='1440.65' y='923.36'>○</text>
<text class='o' x='1490.95' y='923.36'>○</text>
<text class='o' x='1541.25' y='923.36'>○</text>
<text class='o' x='1591.55' y='923.36'>○</text>
<text class='o' x='1641.85' y='923.36'>○</text>
<text class='o' x='1692.15' y='923.36'>○</text>
<text class='o' x='1742.45' y='923.36'>○</text>
<text class='o' x='1792.75' y='923.36'>○</text>
<text class='o' x='1843.05' y='923.36'>○</text>
<text class='o' x='1893.35' y='923.36'>○</text>
<text transform='translate(9.5,967.61) scale(1,0.92)' font-family="'Noto Sans CJK JP', sans-serif" font-size='32' fill='#111'>岡本姫奈</text>
<text transform='translate(246.20,967.51) scale(0.95,1)' font-family="'DejaVu Sans', 'Noto Sans CJK JP', sans-serif" font-size='30' fill='#111' text-anchor='end'>0</text>
<text x='292' y='967.91' font-family="'DejaVu Sans', 'Noto Sans CJK JP', sans-serif" font-size='27' fill='#111' text-anchor='middle'>(<tspan font-size='24' dy='-1.6'>0</tspan><tspan dy='1.6'>)</tspan></text>
<text x='348.00' y='969.01' font-family="'DejaVu Sans', 'Noto Sans CJK JP', sans-serif" font-size='33' font-weight='400' fill='#111' text-anchor='middle' >/</text>
<text transform='translate(403.70,967.51) scale(0.93,1)' font-family="'DejaVu Sans', 'Noto Sans CJK JP', sans-serif" font-size='30' fill='#111' text-anchor='end'>30</text>
<text class='o' x='434.70' y='972.23'>○</text>
<text class='o' x='485.10' y='972.23'>○</text>
<text class='o' x='535.50' y='972.23'>○</text>
<text class='o' x='585.90' y='972.23'>○</text>
<text class='o' x='636.30' y='972.23'>○</text>
<text class='o' x='686.60' y='972.23'>○</text>
<text class='o' x='736.80' y='972.23'>○</text>
<text class='o' x='787.00' y='972.23'>○</text>
<text class='o' x='837.20' y='972.23'>○</text>
<text class='o' x='887.40' y='972.23'>○</text>
<text class='o' x='937.68' y='972.23'>○</text>
<text class='o' x='988.04' y='972.23'>○</text>
<text class='o' x='1038.40' y='972.23'>○</text>
<text class='o' x='1088.76' y='972.23'>○</text>
<text class='o' x='1139.12' y='972.23'>○</text>
<text class='o' x='1189.42' y='972.23'>○</text>
<text class='o' x='1239.66' y='972.23'>○</text>
<text class='o' x='1289.90' y='972.23'>○</text>
<text class='o' x='1340.14' y='972.23'>○</text>
<text class='o' x='1390.38' y='972.23'>○</text>
<text class='o' x='1440.65' y='972.23'>○</text>
<text class='o' x='1490.95' y='972.23'>○</text>
<text class='o' x='1541.25' y='972.23'>○</text>
<text class='o' x='1591.55' y='972.23'>○</text>
<text class='o' x='1641.85' y='972.23'>○</text>
<text class='o' x='1692.15' y='972.23'>○</text>
<text class='o' x='1742.45' y='972.23'>○</text>
<text class='o' x='1792.75' y='972.23'>○</text>
<text class='o' x='1843.05' y='972.23'>○</text>
<text class='o' x='1893.35' y='972.23'>○</text>
<text transform='translate(9.5,1016.49) scale(1,0.92)' font-family="'Noto Sans CJK JP', sans-serif" font-size='32' fill='#111'>奥田いろは</text>
<text transform='translate(246.20,1016.39) scale(0.95,1)' font-family="'DejaVu Sans', 'Noto Sans CJK JP', sans-serif" font-size='30' fill='#111' text-anchor='end'>0</text>
<text x='292' y='1016.79' font-family="'DejaVu Sans', 'Noto Sans CJK JP', sans-serif" font-size='27' fill='#111' text-anchor='middle'>(<tspan font-size='24' dy='-1.6'>0</tspan><tspan dy='1.6'>)</tspan></text>
<text x='348.00' y='1017.89' font-family="'DejaVu Sans', 'Noto Sans CJK JP', sans-serif" font-size='33' font-weight='400' fill='#111' text-anchor='middle' >/</text>
<text transform='translate(403.70,1016.39) scale(0.93,1)' font-family="'DejaVu Sans', 'Noto Sans CJK JP', sans-serif" font-size='30' fill='#111' text-anchor='end'>30</text>
<text class='o' x='434.70' y='1021.11'>○</text>
<text class='o' x='485.10' y='1021.11'>○</text>
<text class='o' x='535.50' y='1021.11'>○</text>
<text class='o' x='585.90' y='1021.11'>○</text>
<text class='o' x='636.30' y='1021.11'>○</text>
<text class='o' x='686.60' y='1021.11'>○</text>
<text class='o' x='736.80' y='1021.11'>○</text>
<text class='o' x='787.00' y='1021.11'>○</text>
<text class='o' x='837.20' y='1021.11'>○</text>
<text class='o' x='887.40' y='1021.11'>○</text>
<text class='o' x='937.68' y='1021.11'>○</text>
<text class='o' x='988.04' y='1021.11'>○</text>
<text class='o' x='1038.40' y='1021.11'>○</text>
<text class='o' x='1088.76' y='1021.11'>○</text>
<text class='o' x='1139.12' y='1021.11'>○</text>
<text class='o' x='1189.42' y='1021.11'>○</text>
<text class='o' x='1239.66' y='1021.11'>○</text>
<text class='o' x='1289.90' y='1021.11'>○</text>
<text class='o' x='1340.14' y='1021.11'>○</text>
<text class='o' x='1390.38' y='1021.11'>○</text>
<text class='o' x='1440.65' y='1021.11'>○</text>
<text class='o' x='1490.95' y='1021.11'>○</text>
<text class='o' x='1541.25' y='1021.11'>○</text>
<text class='o' x='1591.55' y='1021.11'>○</text>
<text class='o' x='1641.85' y='1021.11'>○</text>
<text class='o' x='1692.15' y='1021.11'>○</text>
<text class='o' x='1742.45' y='1021.11'>○</text>
<text class='o' x='1792.75' y='1021.11'>○</text>
<text class='o' x='1843.05' y='1021.11'>○</text>
<text class='o' x='1893.35' y='1021.11'>○</text>
<text transform='translate(9.5,1065.36) scale(1,0.92)' font-family="'Noto Sans CJK JP', sans-serif" font-size='32' fill='#111'>北川悠理</text>
<text transform='translate(246.20,1065.26) scale(0.95,1)' font-family="'DejaVu Sans', 'Noto Sans CJK JP', sans-serif" font-size='30' fill='#111' text-anchor='end'>0</text>
<text x='292' y='1065.66' font-family="'DejaVu Sans', 'Noto Sans CJK JP', sans-serif" font-size='27' fill='#111' text-anchor='middle'>(<tspan font-size='24' dy='-1.6'>0</tspan><tspan dy='1.6'>)</tspan></text>
<text x='348.00' y='1066.76' font-family="'DejaVu Sans', 'Noto Sans CJK JP', sans-serif" font-size='33' font-weight='400' fill='#111' text-anchor='middle' >/</text>
<text transform='translate(403.70,1065.26) scale(0.93,1)' font-family="'DejaVu Sans', 'Noto Sans CJK JP', sans-serif" font-size='30' fill='#111' text-anchor='end'>30</text>
<text class='o' x='434.70' y='1069.98'>○</text>
<text class='o' x='485.10' y='1069.98'>○</text>
<text class='o' x='535.50' y='1069.98'>○</text>
<text class='o' x='585.90' y='1069.98'>○</text>
<text class='o' x='636.30' y='1069.98'>○</text>
<text class='o' x='686.60' y='1069.98'>○</text>
<text class='o' x='736.80' y='1069.98'>○</text>
<text class='o' x='787.00' y='1069.98'>○</text>
<text class='o' x='837.20' y='1069.98'>○</text>
<text class='o' x='887.40' y='1069.98'>○</text>
<text class='o' x='937.68' y='1069.98'>○</text>
<text class='o' x='988.04' y='1069.98'>○</text>
<text class='o' x='1038.40' y='1069.98'>○</text>
<text class='o' x='1088.76' y='1069.98'>○</text>
<text class='o' x='1139.12' y='1069.98'>○</text>
<text class='o' x='1189.42' y='1069.98'>○</text>
<text class='o' x='1239.66' y='1069.98'>○</text>
<text class='o' x='1289.90' y='1069.98'>○</text>
<text class='o' x='1340.14' y='1069.98'>○</text>
<text class='o' x='1390.38' y='1069.98'>○</text>
<text class='o' x='1440.65' y='1069.98'>○</text>
<text class='o' x='1490.95' y='1069.98'>○</text>
<text class='o' x='1541.25' y='1069.98'>○</text>
<text class='o' x='1591.55' y='1069.98'>○</text>
<text class='o' x='1641.85' y='1069.98'>○</text>
<text class='o' x='1692.15' y='1069.98'>○</text>
<text class='o' x='1742.45' y='1069.98'>○</text>
<text class='o' x='1792.75' y='1069.98'>○</text>
<text class='o' x='1843.05' y='1069.98'>○</text>
<text class='o' x='1893.35' y='1069.98'>○</text>
<text transform='translate(9.5,1114.16) scale(1,0.92)' font-family="'Noto Sans CJK JP', sans-serif" font-size='32' fill='#111'>黒見明香</text>
<text transform='translate(246.20,1114.06) scale(0.95,1)' font-family="'DejaVu Sans', 'Noto Sans CJK JP', sans-serif" font-size='30' fill='#111' text-anchor='end'>0</text>
<text x='292' y='1114.46' font-family="'DejaVu Sans', 'Noto Sans CJK JP', sans-serif" font-size='27' fill='#111' text-anchor='middle'>(<tspan font-size='24' dy='-1.6'>0</tspan><tspan dy='1.6'>)</tspan></text>
<text x='348.00' y='1115.56' font-family="'DejaVu Sans', 'Noto Sans CJK JP', sans-serif" font-size='33' font-weight='400' fill='#111' text-anchor='middle' >/</text>
<text transform='translate(403.70,1114.06) scale(0.93,1)' font-family="'DejaVu Sans', 'Noto Sans CJK JP', sans-serif" font-size='30' fill='#111' text-anchor='end'>30</text>
<text class='o' x='434.70' y='1118.78'>○</text>
<text class='o' x='485.10' y='1118.78'>○</text>
<text class='o' x='535.50' y='1118.78'>○</text>
<text class='o' x='585.90' y='1118.78'>○</text>
<text class='o' x='636.30' y='1118.78'>○</text>
<text class='o' x='686.60' y='1118.78'>○</text>
<text class='o' x='736.80' y='1118.78'>○</text>
<text class='o' x='787.00' y='1118.78'>○</text>
<text class='o' x='837.20' y='1118.78'>○</text>
<text class='o' x='887.40' y='1118.78'>○</text>
<text class='o' x='937.68' y='1118.78'>○</text>
<text class='o' x='988.04' y='1118.78'>○</text>
<text class='o' x='1038.40' y='1118.78'>○</text>
<text class='o' x='1088.76' y='1118.78'>○</text>
<text class='o' x='1139.12' y='1118.78'>○</text>
<text class='o' x='1189.42' y='1118.78'>○</text>
<text class='o' x='1239.66' y='1118.78'>○</text>
<text class='o' x='1289.90' y='1118.78'>○</text>
<text class='o' x='1340.14' y='1118.78'>○</text>
<text class='o' x='1390.38' y='1118.78'>○</text>
<text class='o' x='1440.65' y='1118.78'>○</text>
<text class='o' x='1490.95' y='1118.78'>○</text>
<text class='o' x='1541.25' y='1118.78'>○</text>
<text class='o' x='1591.55' y='1118.78'>○</text>
<text class='o' x='1641.85' y='1118.78'>○</text>
<text class='o' x='1692.15' y='1118.78'>○</text>
<text class='o' x='1742.45' y='1118.78'>○</text>
<text class='o' x='1792.75' y='1118.78'>○</text>
<text class='o' x='1843.05' y='1118.78'>○</text>
<text class='o' x='1893.35' y='1118.78'>○</text>
<text transform='translate(9.5,1162.89) scale(1,0.92)' font-family="'Noto Sans CJK JP', sans-serif" font-size='32' fill='#111'>阪口珠美</text>
<text transform='translate(246.20,1162.79) scale(0.95,1)' font-family="'DejaVu Sans', 'Noto Sans CJK JP', sans-serif" font-size='30' fill='#111' text-anchor='end'>0</text>
<text x='292' y='1163.19' font-family="'DejaVu Sans', 'Noto Sans CJK JP', sans-serif" font-size='27' fill='#111' text-anchor='middle'>(<tspan font-size='24' dy='-1.6'>0</tspan><tspan dy='1.6'>)</tspan></text>
<text x='348.00' y='1164.29' font-family="'DejaVu Sans', 'Noto Sans CJK JP', sans-serif" font-size='33' font-weight='400' fill='#111' text-anchor='middle' >/</text>
<text transform='translate(403.70,1162.79) scale(0.93,1)' font-family="'DejaVu Sans', 'Noto Sans CJK JP', sans-serif" font-size='30' fill='#111' text-anchor='end'>30</text>
<text class='o' x='434.70' y='1167.51'>○</text>
<text class='o' x='485.10' y='1167.51'>○</text>
<text class='o' x='535.50' y='1167.51'>○</text>
<text class='o' x='585.90' y='1167.51'>○</text>
<text class='o' x='636.30' y='1167.51'>○</text>
<text class='o' x='686.60' y='1167.51'>○</text>
<text class='o' x='736.80' y='1167.51'>○</text>
<text class='o' x='787.00' y='1167.51'>○</text>
<text class='o' x='837.20' y='1167.51'>○</text>
<text class='o' x='887.40' y='1167.51'>○</text>
<text class='o' x='937.68' y='1167.51'>○</text>
<text class='o' x='988.04' y='1167.51'>○</text>
<text class='o' x='1038.40' y='1167.51'>○</text>
<text class='o' x='1088.76' y='1167.51'>○</text>
<text class='o' x='1139.12' y='1167.51'>○</text>
<text class='o' x='1189.42' y='1167.51'>○</text>
<text class='o' x='1239.66' y='1167.51'>○</text>
<text class='o' x='1289.90' y='1167.51'>○</text>
<text class='o' x='1340.14' y='1167.51'>○</text>
<text class='o' x='1390.38' y='1167.51'>○</text>
<text class='o' x='1440.65' y='1167.51'>○</text>
<text class='o' x='1490.95' y='1167.51'>○</text>
<text class='o' x='1541.25' y='1167.51'>○</text>
<text class='o' x='1591.55' y='1167.51'>○</text>
<text class='o' x='1641.85' y='1167.51'>○</text>
<text class='o' x='1692.15' y='1167.51'>○</text>
<text class='o' x='1742.45' y='1167.51'>○</text>
<text class='o' x='1792.75' y='1167.51'>○</text>
<text class='o' x='1843.05' y='1167.51'>○</text>
<text class='o' x='1893.35' y='1167.51'>○</text>
<text transform='translate(9.5,1211.61) scale(1,0.92)' font-family="'Noto Sans CJK JP', sans-serif" font-size='32' fill='#111'>佐藤楓</text>
<text transform='translate(246.20,1211.51) scale(0.95,1)' font-family="'DejaVu Sans', 'Noto Sans CJK JP', sans-serif" font-size='30' fill='#111' text-anchor='end'>0</text>
<text x='292' y='1211.91' font-family="'DejaVu Sans', 'Noto Sans CJK JP', sans-serif" font-size='27' fill='#111' text-anchor='middle'>(<tspan font-size='24' dy='-1.6'>0</tspan><tspan dy='1.6'>)</tspan></text>
<text x='348.00' y='1213.01' font-family="'DejaVu Sans', 'Noto Sans CJK JP', sans-serif" font-size='33' font-weight='400' fill='#111' text-anchor='middle' >/</text>
<text transform='translate(403.70,1211.51) scale(0.93,1)' font-family="'DejaVu Sans', 'Noto Sans CJK JP', sans-serif" font-size='30' fill='#111' text-anchor='end'>30</text>
<text class='o' x='434.70' y='1216.23'>○</text>
<text class='o' x='485.10' y='1216.23'>○</text>
<text class='o' x='535.50' y='1216.23'>○</text>
<text class='o' x='585.90' y='1216.23'>○</text>
<text class='o' x='636.30' y='1216.23'>○</text>
<text class='o' x='686.60' y='1216.23'>○</text>
<text class='o' x='736.80' y='1216.23'>○</text>
<text class='o' x='787.00' y='1216.23'>○</text>
<text class='o' x='837.20' y='1216.23'>○</text>
<text class='o' x='887.40' y='1216.23'>○</text>
<text class='o' x='937.68' y='1216.23'>○</text>
<text class='o' x='988.04' y='1216.23'>○</text>
<text class='o' x='1038.40' y='1216.23'>○</text>
<text class='o' x='1088.76' y='1216.23'>○</text>
<text class='o' x='1139.12' y='1216.23'>○</text>
<text class='o' x='1189.42' y='1216.23'>○</text>
<text class='o' x='1239.66' y='1216.23'>○</text>
<text class='o' x='1289.90' y='1216.23'>○</text>
<text class='o' x='1340.14' y='1216.23'>○</text>
<text class='o' x='1390.38' y='1216.23'>○</text>
<text class='o' x='1440.65' y='1216.23'>○</text>
<text class='o' x='1490.95' y='1216.23'>○</text>
<text class='o' x='1541.25' y='1216.23'>○</text>
<text class='o' x='1591.55' y='1216.23'>○</text>
<text class='o' x='1641.85' y='1216.23'>○</text>
<text class='o' x='1692.15' y='1216.23'>○</text>
<text class='o' x='1742.45' y='1216.23'>○</text>
<text class='o' x='1792.75' y='1216.23'>○</text>
<text class='o' x='1843.05' y='1216.23'>○</text>
<text class='o' x='1893.35' y='1216.23'>○</text>
<text transform='translate(9.5,1260.34) scale(1,0.92)' font-family="'Noto Sans CJK JP', sans-serif" font-size='32' fill='#111'>佐藤璃果</text>
<text transform='translate(246.20,1260.24) scale(0.95,1)' font-family="'DejaVu Sans', 'Noto Sans CJK JP', sans-serif" font-size='30' fill='#111' text-anchor='end'>0</text>
<text x='292' y='1260.64' font-family="'DejaVu Sans', 'Noto Sans CJK JP', sans-serif" font-size='27' fill='#111' text-anchor='middle'>(<tspan font-size='24' dy='-1.6'>0</tspan><tspan dy='1.6'>)</tspan></text>
<text x='348.00' y='1261.74' font-family="'DejaVu Sans', 'Noto Sans CJK JP', sans-serif" font-size='33' font-weight='400' fill='#111' text-anchor='middle' >/</text>
<text transform='translate(403.70,1260.24) scale(0.93,1)' font-family="'DejaVu Sans', 'Noto Sans CJK JP', sans-serif" font-size='30' fill='#111' text-anchor='end'>30</text>
<text class='o' x='434.70' y='1264.96'>○</text>
<text class='o' x='485.10' y='1264.96'>○</text>
<text class='o' x='535.50' y='1264.96'>○</text>
<text class='o' x='585.90' y='1264.96'>○</text>
<text class='o' x='636.30' y='1264.96'>○</text>
<text class='o' x='686.60' y='1264.96'>○</text>
<text class='o' x='736.80' y='1264.96'>○</text>
<text class='o' x='787.00' y='1264.96'>○</text>
<text class='o' x='837.20' y='1264.96'>○</text>
<text class='o' x='887.40' y='1264.96'>○</text>
<text class='o' x='937.68' y='1264.96'>○</text>
<text class='o' x='988.04' y='1264.96'>○</text>
<text class='o' x='1038.40' y='1264.96'>○</text>
<text class='o' x='1088.76' y='1264.96'>○</text>
<text class='o' x='1139.12' y='1264.96'>○</text>
<text class='o' x='1189.42' y='1264.96'>○</text>
<text class='o' x='1239.66' y='1264.96'>○</text>
<text class='o' x='1289.90' y='1264.96'>○</text>
<text class='o' x='1340.14' y='1264.96'>○</text>
<text class='o' x='1390.38' y='1264.96'>○</text>
<text class='o' x='1440.65' y='1264.96'>○</text>
<text class='o' x='1490.95' y='1264.96'>○</text>
<text class='o' x='1541.25' y='1264.96'>○</text>
<text class='o' x='1591.55' y='1264.96'>○</text>
<text class='o' x='1641.85' y='1264.96'>○</text>
<text class='o' x='1692.15' y='1264.96'>○</text>
<text class='o' x='1742.45' y='1264.96'>○</text>
<text class='o' x='1792.75' y='1264.96'>○</text>
<text class='o' x='1843.05' y='1264.96'>○</text>
<text class='o' x='1893.35' y='1264.96'>○</text>
<text transform='translate(9.5,1309.05) scale(1,0.92)' font-family="'Noto Sans CJK JP', sans-serif" font-size='32' fill='#111'>柴田柚菜</text>
<text transform='translate(246.20,1308.95) scale(0.95,1)' font-family="'DejaVu Sans', 'Noto Sans CJK JP', sans-serif" font-size='30' fill='#111' text-anchor='end'>0</text>
<text x='292' y='1309.35' font-family="'DejaVu Sans', 'Noto Sans CJK JP', sans-serif" font-size='27' fill='#111' text-anchor='middle'>(<tspan font-size='24' dy='-1.6'>0</tspan><tspan dy='1.6'>)</tspan></text>
<text x='348.00' y='1310.45' font-family="'DejaVu Sans', 'Noto Sans CJK JP', sans-serif" font-size='33' font-weight='400' fill='#111' text-anchor='middle' >/</text>
<text transform='translate(403.70,1308.95) scale(0.93,1)' font-family="'DejaVu Sans', 'Noto Sans CJK JP', sans-serif" font-size='30' fill='#111' text-anchor='end'>30</text>
<text class='o' x='434.70' y='1313.67'>○</text>
<text class='o' x='485.10' y='1313.67'>○</text>
<text class='o' x='535.50' y='1313.67'>○</text>
<text class='o' x='585.90' y='1313.67'>○</text>
<text class='o' x='636.30' y='1313.67'>○</text>
<text class='o' x='686.60' y='1313.67'>○</text>
<text class='o' x='736.80' y='1313.67'>○</text>
<text class='o' x='787.00' y='1313.67'>○</text>
<text class='o' x='837.20' y='1313.67'>○</text>
<text class='o' x='887.40' y='1313.67'>○</text>
<text class='o' x='937.68' y='1313.67'>○</text>
<text class='o' x='988.04' y='1313.67'>○</text>
<text class='o' x='1038.40' y='1313.67'>○</text>
<text class='o' x='1088.76' y='1313.67'>○</text>
<text class='o' x='1139.12' y='1313.67'>○</text>
<text class='o' x='1189.42' y='1313.67'>○</text>
<text class='o' x='1239.66' y='1313.67'>○</text>
<text class='o' x='1289.90' y='1313.67'>○</text>
<text class='o' x='1340.14' y='1313.67'>○</text>
<text class='o' x='1390.38' y='1313.67'>○</text>
<text class='o' x='1440.65' y='1313.67'>○</text>
<text class='o' x='1490.95' y='1313.67'>○</text>
<text class='o' x='1541.25' y='1313.67'>○</text>
<text class='o' x='1591.55' y='1313.67'>○</text>
<text class='o' x='1641.85' y='1313.67'>○</text>
<text class='o' x='1692.15' y='1313.67'>○</text>
<text class='o' x='1742.45' y='1313.67'>○</text>
<text class='o' x='1792.75' y='1313.67'>○</text>
<text class='o' x='1843.05' y='1313.67'>○</text>
<text class='o' x='1893.35' y='1313.67'>○</text>
<text transform='translate(9.5,1357.75) scale(1,0.92)' font-family="'Noto Sans CJK JP', sans-serif" font-size='32' fill='#111'>清宮レイ</text>
<text transform='translate(246.20,1357.65) scale(0.95,1)' font-family="'DejaVu Sans', 'Noto Sans CJK JP', sans-serif" font-size='30' fill='#111' text-anchor='end'>0</text>
<text x='292' y='1358.05' font-family="'DejaVu Sans', 'Noto Sans CJK JP', sans-serif" font-size='27' fill='#111' text-anchor='middle'>(<tspan font-size='24' dy='-1.6'>0</tspan><tspan dy='1.6'>)</tspan></text>
<text x='348.00' y='1359.15' font-family="'DejaVu Sans', 'Noto Sans CJK JP', sans-serif" font-size='33' font-weight='400' fill='#111' text-anchor='middle' >/</text>
<text transform='translate(403.70,1357.65) scale(0.93,1)' font-family="'DejaVu Sans', 'Noto Sans CJK JP', sans-serif" font-size='30' fill='#111' text-anchor='end'>30</text>
<text class='o' x='434.70' y='1362.37'>○</text>
<text class='o' x='485.10' y='1362.37'>○</text>
<text class='o' x='535.50' y='1362.37'>○</text>
<text class='o' x='585.90' y='1362.37'>○</text>
<text class='o' x='636.30' y='1362.37'>○</text>
<text class='o' x='686.60' y='1362.37'>○</text>
<text class='o' x='736.80' y='1362.37'>○</text>
<text class='o' x='787.00' y='1362.37'>○</text>
<text class='o' x='837.20' y='1362.37'>○</text>
<text class='o' x='887.40' y='1362.37'>○</text>
<text class='o' x='937.68' y='1362.37'>○</text>
<text class='o' x='988.04' y='1362.37'>○</text>
<text class='o' x='1038.40' y='1362.37'>○</text>
<text class='o' x='1088.76' y='1362.37'>○</text>
<text class='o' x='1139.12' y='1362.37'>○</text>
<text class='o' x='1189.42' y='1362.37'>○</text>
<text class='o' x='1239.66' y='1362.37'>○</text>
<text class='o' x='1289.90' y='1362.37'>○</text>
<text class='o' x='1340.14' y='1362.37'>○</text>
<text class='o' x='1390.38' y='1362.37'>○</text>
<text class='o' x='1440.65' y='1362.37'>○</text>
<text class='o' x='1490.95' y='1362.37'>○</text>
<text class='o' x='1541.25' y='1362.37'>○</text>
<text class='o' x='1591.55' y='1362.37'>○</text>
<text class='o' x='1641.85' y='1362.37'>○</text>
<text class='o' x='1692.15' y='1362.37'>○</text>
<text class='o' x='1742.45' y='1362.37'>○</text>
<text class='o' x='1792.75' y='1362.37'>○</text>
<text class='o' x='1843.05' y='1362.37'>○</text>
<text class='o' x='1893.35' y='1362.37'>○</text>
<text transform='translate(9.5,1406.45) scale(1,0.92)' font-family="'Noto Sans CJK JP', sans-serif" font-size='32' fill='#111'>林瑠奈</text>
<text transform='translate(246.20,1406.35) scale(0.95,1)' font-family="'DejaVu Sans', 'Noto Sans CJK JP', sans-serif" font-size='30' fill='#111' text-anchor='end'>0</text>
<text x='292' y='1406.75' font-family="'DejaVu Sans', 'Noto Sans CJK JP', sans-serif" font-size='27' fill='#111' text-anchor='middle'>(<tspan font-size='24' dy='-1.6'>0</tspan><tspan dy='1.6'>)</tspan></text>
<text x='348.00' y='1407.85' font-family="'DejaVu Sans', 'Noto Sans CJK JP', sans-serif" font-size='33' font-weight='400' fill='#111' text-anchor='middle' >/</text>
<text transform='translate(403.70,1406.35) scale(0.93,1)' font-family="'DejaVu Sans', 'Noto Sans CJK JP', sans-serif" font-size='30' fill='#111' text-anchor='end'>30</text>
<text class='o' x='434.70' y='1411.07'>○</text>
<text class='o' x='485.10' y='1411.07'>○</text>
<text class='o' x='535.50' y='1411.07'>○</text>
<text class='o' x='585.90' y='1411.07'>○</text>
<text class='o' x='636.30' y='1411.07'>○</text>
<text class='o' x='686.60' y='1411.07'>○</text>
<text class='o' x='736.80' y='1411.07'>○</text>
<text class='o' x='787.00' y='1411.07'>○</text>
<text class='o' x='837.20' y='1411.07'>○</text>
<text class='o' x='887.40' y='1411.07'>○</text>
<text class='o' x='937.68' y='1411.07'>○</text>
<text class='o' x='988.04' y='1411.07'>○</text>
<text class='o' x='1038.40' y='1411.07'>○</text>
<text class='o' x='1088.76' y='1411.07'>○</text>
<text class='o' x='1139.12' y='1411.07'>○</text>
<text class='o' x='1189.42' y='1411.07'>○</text>
<text class='o' x='1239.66' y='1411.07'>○</text>
<text class='o' x='1289.90' y='1411.07'>○</text>
<text class='o' x='1340.14' y='1411.07'>○</text>
<text class='o' x='1390.38' y='1411.07'>○</text>
<text class='o' x='1440.65' y='1411.07'>○</text>
<text class='o' x='1490.95' y='1411.07'>○</text>
<text class='o' x='1541.25' y='1411.07'>○</text>
<text class='o' x='1591.55' y='1411.07'>○</text>
<text class='o' x='1641.85' y='1411.07'>○</text>
<text class='o' x='1692.15' y='1411.07'>○</text>
<text class='o' x='1742.45' y='1411.07'>○</text>
<text class='o' x='1792.75' y='1411.07'>○</text>
<text class='o' x='1843.05' y='1411.07'>○</text>
<text class='o' x='1893.35' y='1411.07'>○</text>
<text transform='translate(9.5,1455.30) scale(1,0.92)' font-family="'Noto Sans CJK JP', sans-serif" font-size='32' fill='#111'>松尾美佑</text>
<text transform='translate(246.20,1455.20) scale(0.95,1)' font-family="'DejaVu Sans', 'Noto Sans CJK JP', sans-serif" font-size='30' fill='#111' text-anchor='end'>0</text>
<text x='292' y='1455.60' font-family="'DejaVu Sans', 'Noto Sans CJK JP', sans-serif" font-size='27' fill='#111' text-anchor='middle'>(<tspan font-size='24' dy='-1.6'>0</tspan><tspan dy='1.6'>)</tspan></text>
<text x='348.00' y='1456.70' font-family="'DejaVu Sans', 'Noto Sans CJK JP', sans-serif" font-size='33' font-weight='400' fill='#111' text-anchor='middle' >/</text>
<text transform='translate(403.70,1455.20) scale(0.93,1)' font-family="'DejaVu Sans', 'Noto Sans CJK JP', sans-serif" font-size='30' fill='#111' text-anchor='end'>30</text>
<text class='o' x='434.70' y='1459.92'>○</text>
<text class='o' x='485.10' y='1459.92'>○</text>
<text class='o' x='535.50' y='1459.92'>○</text>
<text class='o' x='585.90' y='1459.92'>○</text>
<text class='o' x='636.30' y='1459.92'>○</text>
<text class='o' x='686.60' y='1459.92'>○</text>
<text class='o' x='736.80' y='1459.92'>○</text>
<text class='o' x='787.00' y='1459.92'>○</text>
<text class='o' x='837.20' y='1459.92'>○</text>
<text class='o' x='887.40' y='1459.92'>○</text>
<text class='o' x='937.68' y='1459.92'>○</text>
<text class='o' x='988.04' y='1459.92'>○</text>
<text class='o' x='1038.40' y='1459.92'>○</text>
<text class='o' x='1088.76' y='1459.92'>○</text>
<text class='o' x='1139.12' y='1459.92'>○</text>
<text class='o' x='1189.42' y='1459.92'>○</text>
<text class='o' x='1239.66' y='1459.92'>○</text>
<text class='o' x='1289.90' y='1459.92'>○</text>
<text class='o' x='1340.14' y='1459.92'>○</text>
<text class='o' x='1390.38' y='1459.92'>○</text>
<text class='o' x='1440.65' y='1459.92'>○</text>
<text class='o' x='1490.95' y='1459.92'>○</text>
<text class='o' x='1541.25' y='1459.92'>○</text>
<text class='o' x='1591.55' y='1459.92'>○</text>
<text class='o' x='1641.85' y='1459.92'>○</text>
<text class='o' x='1692.15' y='1459.92'>○</text>
<text class='o' x='1742.45' y='1459.92'>○</text>
<text class='o' x='1792.75' y='1459.92'>○</text>
<text class='o' x='1843.05' y='1459.92'>○</text>
<text class='o' x='1893.35' y='1459.92'>○</text>
<text transform='translate(9.5,1504.27) scale(1,0.92)' font-family="'Noto Sans CJK JP', sans-serif" font-size='32' fill='#111'>向井葉月</text>
<text transform='translate(246.20,1504.17) scale(0.95,1)' font-family="'DejaVu Sans', 'Noto Sans CJK JP', sans-serif" font-size='30' fill='#111' text-anchor='end'>0</text>
<text x='292' y='1504.57' font-family="'DejaVu Sans', 'Noto Sans CJK JP', sans-serif" font-size='27' fill='#111' text-anchor='middle'>(<tspan font-size='24' dy='-1.6'>0</tspan><tspan dy='1.6'>)</tspan></text>
<text x='348.00' y='1505.67' font-family="'DejaVu Sans', 'Noto Sans CJK JP', sans-serif" font-size='33' font-weight='400' fill='#111' text-anchor='middle' >/</text>
<text transform='translate(403.70,1504.17) scale(0.93,1)' font-family="'DejaVu Sans', 'Noto Sans CJK JP', sans-serif" font-size='30' fill='#111' text-anchor='end'>30</text>
<text class='o' x='434.70' y='1508.89'>○</text>
<text class='o' x='485.10' y='1508.89'>○</text>
<text class='o' x='535.50' y='1508.89'>○</text>
<text class='o' x='585.90' y='1508.89'>○</text>
<text class='o' x='636.30' y='1508.89'>○</text>
<text class='o' x='686.60' y='1508.89'>○</text>
<text class='o' x='736.80' y='1508.89'>○</text>
<text class='o' x='787.00' y='1508.89'>○</text>
<text class='o' x='837.20' y='1508.89'>○</text>
<text class='o' x='887.40' y='1508.89'>○</text>
<text class='o' x='937.68' y='1508.89'>○</text>
<text class='o' x='988.04' y='1508.89'>○</text>
<text class='o' x='1038.40' y='1508.89'>○</text>
<text class='o' x='1088.76' y='1508.89'>○</text>
<text class='o' x='1139.12' y='1508.89'>○</text>
<text class='o' x='1189.42' y='1508.89'>○</text>
<text class='o' x='1239.66' y='1508.89'>○</text>
<text class='o' x='1289.90' y='1508.89'>○</text>
<text class='o' x='1340.14' y='1508.89'>○</text>
<text class='o' x='1390.38' y='1508.89'>○</text>
<text class='o' x='1440.65' y='1508.89'>○</text>
<text class='o' x='1490.95' y='1508.89'>○</text>
<text class='o' x='1541.25' y='1508.89'>○</text>
<text class='o' x='1591.55' y='1508.89'>○</text>
<text class='o' x='1641.85' y='1508.89'>○</text>
<text class='o' x='1692.15' y='1508.89'>○</text>
<text class='o' x='1742.45' y='1508.89'>○</text>
<text class='o' x='1792.75' y='1508.89'>○</text>
<text class='o' x='1843.05' y='1508.89'>○</text>
<text class='o' x='1893.35' y='1508.89'>○</text>
<text transform='translate(9.5,1553.20) scale(1,0.92)' font-family="'Noto Sans CJK JP', sans-serif" font-size='32' fill='#111'>矢久保美緒</text>
<text transform='translate(246.20,1553.10) scale(0.95,1)' font-family="'DejaVu Sans', 'Noto Sans CJK JP', sans-serif" font-size='30' fill='#111' text-anchor='end'>0</text>
<text x='292' y='1553.50' font-family="'DejaVu Sans', 'Noto Sans CJK JP', sans-serif" font-size='27' fill='#111' text-anchor='middle'>(<tspan font-size='24' dy='-1.6'>0</tspan><tspan dy='1.6'>)</tspan></text>
<text x='348.00' y='1554.60' font-family="'DejaVu Sans', 'Noto Sans CJK JP', sans-serif" font-size='33' font-weight='400' fill='#111' text-anchor='middle' >/</text>
<text transform='translate(403.70,1553.10) scale(0.93,1)' font-family="'DejaVu Sans', 'Noto Sans CJK JP', sans-serif" font-size='30' fill='#111' text-anchor='end'>30</text>
<text class='o' x='434.70' y='1557.82'>○</text>
<text class='o' x='485.10' y='1557.82'>○</text>
<text class='o' x='535.50' y='1557.82'>○</text>
<text class='o' x='585.90' y='1557.82'>○</text>
<text class='o' x='636.30' y='1557.82'>○</text>
<text class='o' x='686.60' y='1557.82'>○</text>
<text class='o' x='736.80' y='1557.82'>○</text>
<text class='o' x='787.00' y='1557.82'>○</text>
<text class='o' x='837.20' y='1557.82'>○</text>
<text class='o' x='887.40' y='1557.82'>○</text>
<text class='o' x='937.68' y='1557.82'>○</text>
<text class='o' x='988.04' y='1557.82'>○</text>
<text class='o' x='1038.40' y='1557.82'>○</text>
<text class='o' x='1088.76' y='1557.82'>○</text>
<text class='o' x='1139.12' y='1557.82'>○</text>
<text class='o' x='1189.42' y='1557.82'>○</text>
<text class='o' x='1239.66' y='1557.82'>○</text>
<text class='o' x='1289.90' y='1557.82'>○</text>
<text class='o' x='1340.14' y='1557.82'>○</text>
<text class='o' x='1390.38' y='1557.82'>○</text>
<text class='o' x='1440.65' y='1557.82'>○</text>
<text class='o' x='1490.95' y='1557.82'>○</text>
<text class='o' x='1541.25' y='1557.82'>○</text>
<text class='o' x='1591.55' y='1557.82'>○</text>
<text class='o' x='1641.85' y='1557.82'>○</text>
<text class='o' x='1692.15' y='1557.82'>○</text>
<text class='o' x='1742.45' y='1557.82'>○</text>
<text class='o' x='1792.75' y='1557.82'>○</text>
<text class='o' x='1843.05' y='1557.82'>○</text>
<text class='o' x='1893.35' y='1557.82'>○</text>
<text x='7' y='1598.33' font-family="'Noto Sans CJK JP', sans-serif" font-size='18' fill='#111' textLength='190' lengthAdjust='spacingAndGlyphs'>吉田綾乃クリスティー</text>
<text transform='translate(246.20,1602.03) scale(0.95,1)' font-family="'DejaVu Sans', 'Noto Sans CJK JP', sans-serif" font-size='30' fill='#111' text-anchor='end'>0</text>
<text x='292' y='1602.43' font-family="'DejaVu Sans', 'Noto Sans CJK JP', sans-serif" font-size='27' fill='#111' text-anchor='middle'>(<tspan font-size='24' dy='-1.6'>0</tspan><tspan dy='1.6'>)</tspan></text>
<text x='348.00' y='1603.53' font-family="'DejaVu Sans', 'Noto Sans CJK JP', sans-serif" font-size='33' font-weight='400' fill='#111' text-anchor='middle' >/</text>
<text transform='translate(403.70,1602.03) scale(0.93,1)' font-family="'DejaVu Sans', 'Noto Sans CJK JP', sans-serif" font-size='30' fill='#111' text-anchor='end'>30</text>
<text class='o' x='434.70' y='1606.75'>○</text>
<text class='o' x='485.10' y='1606.75'>○</text>
<text class='o' x='535.50' y='1606.75'>○</text>
<text class='o' x='585.90' y='1606.75'>○</text>
<text class='o' x='636.30' y='1606.75'>○</text>
<text class='o' x='686.60' y='1606.75'>○</text>
<text class='o' x='736.80' y='1606.75'>○</text>
<text class='o' x='787.00' y='1606.75'>○</text>
<text class='o' x='837.20' y='1606.75'>○</text>
<text class='o' x='887.40' y='1606.75'>○</text>
<text class='o' x='937.68' y='1606.75'>○</text>
<text class='o' x='988.04' y='1606.75'>○</text>
<text class='o' x='1038.40' y='1606.75'>○</text>
<text class='o' x='1088.76' y='1606.75'>○</text>
<text class='o' x='1139.12' y='1606.75'>○</text>
<text class='o' x='1189.42' y='1606.75'>○</text>
<text class='o' x='1239.66' y='1606.75'>○</text>
<text class='o' x='1289.90' y='1606.75'>○</text>
<text class='o' x='1340.14' y='1606.75'>○</text>
<text class='o' x='1390.38' y='1606.75'>○</text>
<text class='o' x='1440.65' y='1606.75'>○</text>
<text class='o' x='1490.95' y='1606.75'>○</text>
<text class='o' x='1541.25' y='1606.75'>○</text>
<text class='o' x='1591.55' y='1606.75'>○</text>
<text class='o' x='1641.85' y='1606.75'>○</text>
<text class='o' x='1692.15' y='1606.75'>○</text>
<text class='o' x='1742.45' y='1606.75'>○</text>
<text class='o' x='1792.75' y='1606.75'>○</text>
<text class='o' x='1843.05' y='1606.75'>○</text>
<text class='o' x='1893.35' y='1606.75'>○</text>
<text transform='translate(9.5,1650.55) scale(1,0.92)' font-family="'Noto Sans CJK JP', sans-serif" font-size='32' fill='#111'>中村麗乃</text>
<text transform='translate(246.20,1650.45) scale(0.95,1)' font-family="'DejaVu Serif', serif" font-size='30' fill='#111' text-anchor='end'>0</text>
<text x='292' y='1650.85' font-family="'DejaVu Serif', serif" font-size='27' fill='#111' text-anchor='middle'>(<tspan font-size='24' dy='-1.6'>0</tspan><tspan dy='1.6'>)</tspan></text>
<text x='348.00' y='1651.95' font-family="'DejaVu Sans', 'Noto Sans CJK JP', sans-serif" font-size='33' font-weight='400' fill='#111' text-anchor='middle' >/</text>
<text transform='translate(403.70,1650.45) scale(0.93,1)' font-family="'DejaVu Serif', serif" font-size='30' fill='#111' text-anchor='end'>15</text>
<text class='o' x='434.70' y='1655.17'>○</text>
<text class='o' x='485.10' y='1655.17'>○</text>
<text class='o' x='535.50' y='1655.17'>○</text>
<text class='o' x='585.90' y='1655.17'>○</text>
<text class='o' x='636.30' y='1655.17'>○</text>
<text class='o' x='1440.65' y='1655.17'>○</text>
<text class='o' x='1490.95' y='1655.17'>○</text>
<text class='o' x='1541.25' y='1655.17'>○</text>
<text class='o' x='1591.55' y='1655.17'>○</text>
<text class='o' x='1641.85' y='1655.17'>○</text>
<text class='o' x='1692.15' y='1655.17'>○</text>
<text class='o' x='1742.45' y='1655.17'>○</text>
<text class='o' x='1792.75' y='1655.17'>○</text>
<text class='o' x='1843.05' y='1655.17'>○</text>
<text class='o' x='1893.35' y='1655.17'>○</text>
<text x='736.80' y='1652.65' font-family="'Noto Sans CJK JP', sans-serif" font-size='35' font-weight='700' fill='#000' text-anchor='middle' >不</text>
<text x='787.00' y='1652.65' font-family="'Noto Sans CJK JP', sans-serif" font-size='35' font-weight='500' fill='#000' text-anchor='middle' >参</text>
<text x='837.20' y='1652.65' font-family="'Noto Sans CJK JP', sans-serif" font-size='35' font-weight='700' fill='#000' text-anchor='middle' >加</text>
<text x='988.04' y='1652.65' font-family="'Noto Sans CJK JP', sans-serif" font-size='35' font-weight='700' fill='#000' text-anchor='middle' >不</text>
<text x='1038.40' y='1652.65' font-family="'Noto Sans CJK JP', sans-serif" font-size='35' font-weight='500' fill='#000' text-anchor='middle' >参</text>
<text x='1088.76' y='1652.65' font-family="'Noto Sans CJK JP', sans-serif" font-size='35' font-weight='700' fill='#000' text-anchor='middle' >加</text>
<text x='1239.66' y='1652.65' font-family="'Noto Sans CJK JP', sans-serif" font-size='35' font-weight='700' fill='#000' text-anchor='middle' >不</text>
<text x='1289.90' y='1652.65' font-family="'Noto Sans CJK JP', sans-serif" font-size='35' font-weight='500' fill='#000' text-anchor='middle' >参</text>
<text x='1340.14' y='1652.65' font-family="'Noto Sans CJK JP', sans-serif" font-size='35' font-weight='700' fill='#000' text-anchor='middle' >加</text>
<text x='329.60' y='1688.90' font-family="'DejaVu Sans', 'Noto Sans CJK JP', sans-serif" font-size='24' font-weight='400' fill='#222' text-anchor='end' >258</text>
<text x='347.50' y='1690.50' font-family="'DejaVu Sans', 'Noto Sans CJK JP', sans-serif" font-size='24' font-weight='400' fill='#222' text-anchor='middle' >/</text>
<text x='411.20' y='1688.90' font-family="'DejaVu Sans', 'Noto Sans CJK JP', sans-serif" font-size='24' font-weight='400' fill='#222' text-anchor='end' >935</text>
<text x='405.00' y='1725.60' font-family="'DejaVu Sans', 'Noto Sans CJK JP', sans-serif" font-size='24' fill='#222' text-anchor='end' textLength='75' lengthAdjust='spacingAndGlyphs' xml:space='preserve'>(28%)</text>
<text transform='translate(657.20,1690.40) scale(0.92,1)' font-family="'DejaVu Sans', 'Noto Sans CJK JP', sans-serif" font-size='22.5' fill='#222' text-anchor='end'>155</text>
<text transform='translate(605.50,1690.40) scale(0.92,1)' font-family="'DejaVu Sans', 'Noto Sans CJK JP', sans-serif" font-size='22.5' fill='#222' text-anchor='end'>37/</text>
<text transform='translate(657.50,1725.60) scale(0.92,1)' font-family="'DejaVu Sans', 'Noto Sans CJK JP', sans-serif" font-size='22.5' fill='#222' text-anchor='end'>(24%)</text>
<text transform='translate(908.20,1690.40) scale(0.92,1)' font-family="'DejaVu Sans', 'Noto Sans CJK JP', sans-serif" font-size='22.5' fill='#222' text-anchor='end'>150</text>
<text transform='translate(856.50,1690.40) scale(0.92,1)' font-family="'DejaVu Sans', 'Noto Sans CJK JP', sans-serif" font-size='22.5' fill='#222' text-anchor='end'>40/</text>
<text transform='translate(908.50,1725.60) scale(0.92,1)' font-family="'DejaVu Sans', 'Noto Sans CJK JP', sans-serif" font-size='22.5' fill='#222' text-anchor='end'>(27%)</text>
<text transform='translate(1160.00,1690.40) scale(0.92,1)' font-family="'DejaVu Sans', 'Noto Sans CJK JP', sans-serif" font-size='22.5' fill='#222' text-anchor='end'>155</text>
<text transform='translate(1108.30,1690.40) scale(0.92,1)' font-family="'DejaVu Sans', 'Noto Sans CJK JP', sans-serif" font-size='22.5' fill='#222' text-anchor='end'>35/</text>
<text transform='translate(1160.30,1725.60) scale(0.92,1)' font-family="'DejaVu Sans', 'Noto Sans CJK JP', sans-serif" font-size='22.5' fill='#222' text-anchor='end'>(23%)</text>
<text transform='translate(1411.20,1690.40) scale(0.92,1)' font-family="'DejaVu Sans', 'Noto Sans CJK JP', sans-serif" font-size='22.5' fill='#222' text-anchor='end'>155</text>
<text transform='translate(1359.50,1690.40) scale(0.92,1)' font-family="'DejaVu Sans', 'Noto Sans CJK JP', sans-serif" font-size='22.5' fill='#222' text-anchor='end'>49/</text>
<text transform='translate(1411.50,1725.60) scale(0.92,1)' font-family="'DejaVu Sans', 'Noto Sans CJK JP', sans-serif" font-size='22.5' fill='#222' text-anchor='end'>(32%)</text>
<text transform='translate(1662.70,1690.40) scale(0.92,1)' font-family="'DejaVu Sans', 'Noto Sans CJK JP', sans-serif" font-size='22.5' fill='#222' text-anchor='end'>160</text>
<text transform='translate(1611.00,1690.40) scale(0.92,1)' font-family="'DejaVu Sans', 'Noto Sans CJK JP', sans-serif" font-size='22.5' fill='#222' text-anchor='end'>43/</text>
<text transform='translate(1663.00,1725.60) scale(0.92,1)' font-family="'DejaVu Sans', 'Noto Sans CJK JP', sans-serif" font-size='22.5' fill='#222' text-anchor='end'>(27%)</text>
<text transform='translate(1914.20,1690.40) scale(0.92,1)' font-family="'DejaVu Sans', 'Noto Sans CJK JP', sans-serif" font-size='22.5' fill='#222' text-anchor='end'>160</text>
<text transform='translate(1862.50,1690.40) scale(0.92,1)' font-family="'DejaVu Sans', 'Noto Sans CJK JP', sans-serif" font-size='22.5' fill='#222' text-anchor='end'>54/</text>
<text transform='translate(1914.50,1725.60) scale(0.92,1)' font-family="'DejaVu Sans', 'Noto Sans CJK JP', sans-serif" font-size='22.5' fill='#222' text-anchor='end'>(34%)</text>
</svg>
</body></html>
